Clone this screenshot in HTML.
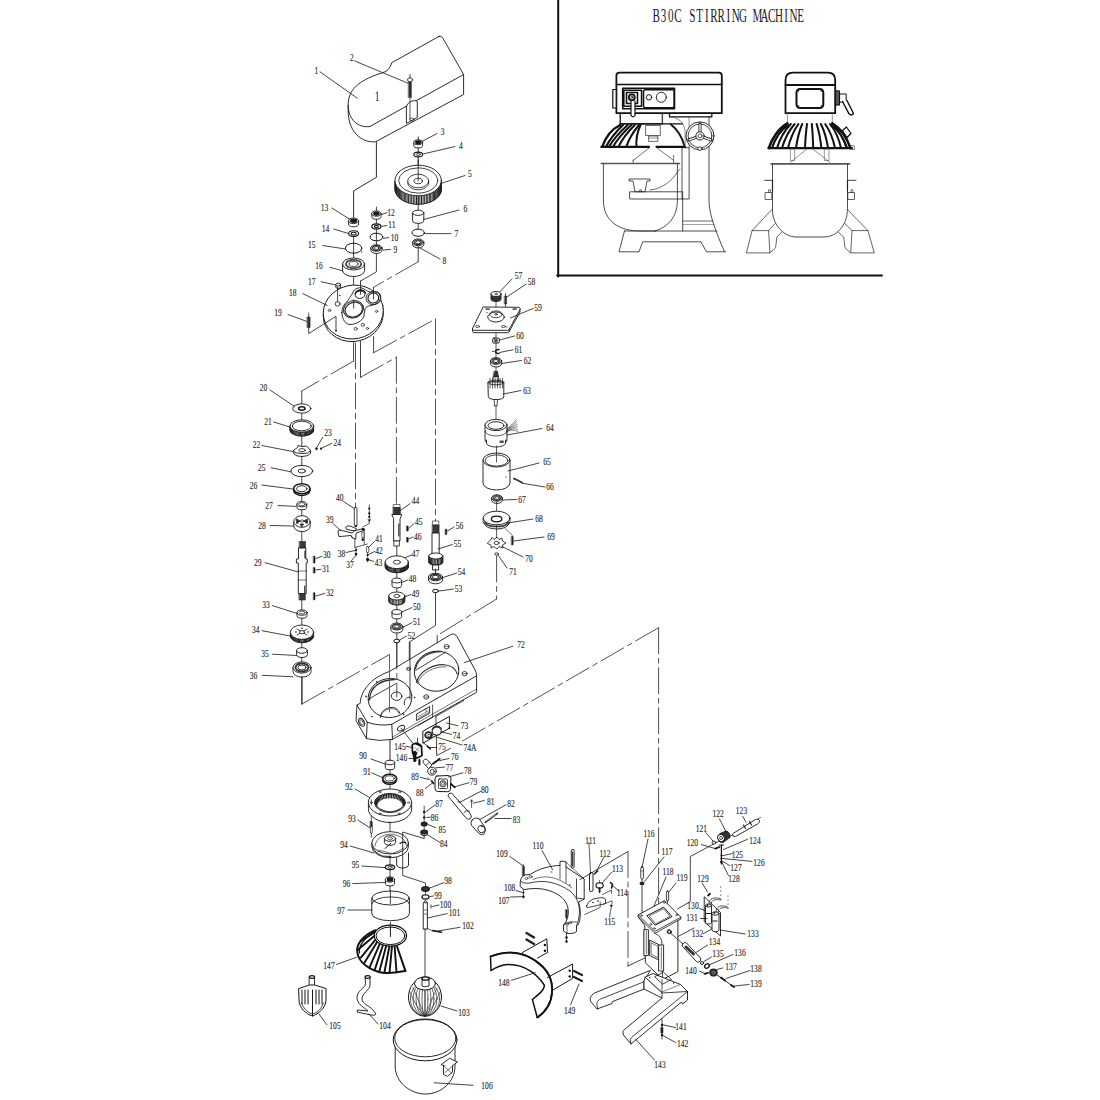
<!DOCTYPE html>
<html><head><meta charset="utf-8"><style>
html,body{margin:0;padding:0;background:#fff;width:1100px;height:1100px;overflow:hidden}
svg{display:block}
.t{font-family:"Liberation Serif",serif;font-size:10.5px;fill:#222;stroke:#222;stroke-width:0.12;text-anchor:middle}
.ti{font-family:"Liberation Serif",serif;font-size:19.8px;fill:#222;text-anchor:middle}
</style></head><body>
<svg width="1100" height="1100" viewBox="0 0 1100 1100" stroke-linecap="round" stroke-linejoin="round">
<rect width="1100" height="1100" fill="#fff"/>
<path d="M439,36.4 Q441,35.5 442.5,37.5 L463.6,74.5 L463.6,94.5 L375.5,141.8 C360,143 348,130 348.2,111 L348.2,103.6 C348.5,88 362,79 382.7,72.7 Q389.5,71 391.8,62.7 L439,36.4 Z" fill="#fff" stroke="#151515" stroke-width="0.9" />
<path d="M463.6,74.5 L370,126.4 C358,128.5 348,119 348.2,105.5" fill="none" stroke="#151515" stroke-width="0.9" />
<path d="M406.4,106.5 L406.4,123.4 L417.3,117.4 L417.3,101.5 C415,99.5 408,101 406.4,106.5 Z" fill="#fff" stroke="#151515" stroke-width="0.9" />
<ellipse cx="411.8" cy="119.5" rx="2.2" ry="1.6" fill="none" stroke="#151515" stroke-width="0.7"/>
<polyline points="410,98 410,119.5" fill="none" stroke="#151515" stroke-width="0.7"/>
<polyline points="377.3,92.3 377.3,100.5" fill="none" stroke="#151515" stroke-width="0.8"/>
<polyline points="376,93.2 377.3,92.3" fill="none" stroke="#151515" stroke-width="0.6"/>
<polyline points="376.2,100.5 378.4,100.5" fill="none" stroke="#151515" stroke-width="0.5"/>
<ellipse cx="410" cy="79.8" rx="2.6" ry="2" fill="#fff" stroke="#151515" stroke-width="0.8"/>
<polyline points="410,74.5 410,77.5" fill="none" stroke="#151515" stroke-width="0.8"/>
<rect x="408.6" y="82" width="2.8" height="15.5" rx="0" fill="#333" stroke="#222" stroke-width="0.5"/>
<text transform="translate(316.4 70) scale(0.72 1)" y="3.7" class="t">1</text>
<polyline points="320,71.8 357.3,98.2" fill="none" stroke="#151515" stroke-width="0.8"/>
<text transform="translate(351.8 57.3) scale(0.72 1)" y="3.7" class="t">2</text>
<polyline points="354.5,60.9 408,83.2" fill="none" stroke="#151515" stroke-width="0.8"/>
<polyline points="376.4,141.8 376.4,177.3 353.6,190.9 353.6,217" fill="none" stroke="#151515" stroke-width="0.9"/>
<polyline points="418.2,137 418.2,175" fill="none" stroke="#151515" stroke-width="0.9"/>
<path d="M413.8,142.3 L413.8,145.5 A4.4,2.4 0 0 0 422.6,145.5 L422.6,142.3" fill="#fff" stroke="#151515" stroke-width="0.9" />
<ellipse cx="418.2" cy="142.3" rx="4.4" ry="2.4" fill="#fff" stroke="#151515" stroke-width="0.9"/>
<ellipse cx="418.2" cy="142.3" rx="2.4" ry="1.3" fill="#222" stroke="#151515" stroke-width="1.5"/>
<text transform="translate(442.7 131) scale(0.72 1)" y="3.7" class="t">3</text>
<polyline points="421,142 437,133.5" fill="none" stroke="#151515" stroke-width="0.8"/>
<ellipse cx="418.2" cy="154.5" rx="4.4" ry="2.4" fill="#fff" stroke="#151515" stroke-width="1.1"/>
<ellipse cx="418.2" cy="154.5" rx="2" ry="1" fill="none" stroke="#151515" stroke-width="0.8"/>
<text transform="translate(461 145.5) scale(0.72 1)" y="3.7" class="t">4</text>
<polyline points="423,154 455,146.5" fill="none" stroke="#151515" stroke-width="0.8"/>
<path d="M395,180.5 L395,189 A23.2,15.3 0 0 0 441.4,189 L441.4,180.5" fill="#fff" stroke="#151515" stroke-width="0.9" />
<line x1="395.1" y1="181.6" x2="395.1" y2="190.1" stroke="#222" stroke-width="1.0"/>
<line x1="395.2" y1="182.7" x2="395.2" y2="191.2" stroke="#222" stroke-width="1.0"/>
<line x1="395.5" y1="183.8" x2="395.5" y2="192.3" stroke="#222" stroke-width="1.0"/>
<line x1="395.9" y1="184.8" x2="395.9" y2="193.3" stroke="#222" stroke-width="1.0"/>
<line x1="396.5" y1="185.8" x2="396.5" y2="194.3" stroke="#222" stroke-width="1.0"/>
<line x1="397.1" y1="186.9" x2="397.1" y2="195.4" stroke="#222" stroke-width="1.0"/>
<line x1="397.8" y1="187.8" x2="397.8" y2="196.3" stroke="#222" stroke-width="1.0"/>
<line x1="398.7" y1="188.8" x2="398.7" y2="197.3" stroke="#222" stroke-width="1.0"/>
<line x1="399.6" y1="189.7" x2="399.6" y2="198.2" stroke="#222" stroke-width="1.0"/>
<line x1="400.7" y1="190.5" x2="400.7" y2="199" stroke="#222" stroke-width="1.0"/>
<line x1="401.8" y1="191.3" x2="401.8" y2="199.8" stroke="#222" stroke-width="1.0"/>
<line x1="403" y1="192.1" x2="403" y2="200.6" stroke="#222" stroke-width="1.0"/>
<line x1="404.3" y1="192.7" x2="404.3" y2="201.2" stroke="#222" stroke-width="1.0"/>
<line x1="405.7" y1="193.4" x2="405.7" y2="201.9" stroke="#222" stroke-width="1.0"/>
<line x1="407.1" y1="193.9" x2="407.1" y2="202.4" stroke="#222" stroke-width="1.0"/>
<line x1="408.6" y1="194.4" x2="408.6" y2="202.9" stroke="#222" stroke-width="1.0"/>
<line x1="410.1" y1="194.8" x2="410.1" y2="203.3" stroke="#222" stroke-width="1.0"/>
<line x1="411.7" y1="195.2" x2="411.7" y2="203.7" stroke="#222" stroke-width="1.0"/>
<line x1="413.3" y1="195.5" x2="413.3" y2="204" stroke="#222" stroke-width="1.0"/>
<line x1="414.9" y1="195.6" x2="414.9" y2="204.1" stroke="#222" stroke-width="1.0"/>
<line x1="416.5" y1="195.8" x2="416.5" y2="204.3" stroke="#222" stroke-width="1.0"/>
<line x1="418.2" y1="195.8" x2="418.2" y2="204.3" stroke="#222" stroke-width="1.0"/>
<line x1="419.9" y1="195.8" x2="419.9" y2="204.3" stroke="#222" stroke-width="1.0"/>
<line x1="421.5" y1="195.6" x2="421.5" y2="204.1" stroke="#222" stroke-width="1.0"/>
<line x1="423.1" y1="195.5" x2="423.1" y2="204" stroke="#222" stroke-width="1.0"/>
<line x1="424.7" y1="195.2" x2="424.7" y2="203.7" stroke="#222" stroke-width="1.0"/>
<line x1="426.3" y1="194.8" x2="426.3" y2="203.3" stroke="#222" stroke-width="1.0"/>
<line x1="427.8" y1="194.4" x2="427.8" y2="202.9" stroke="#222" stroke-width="1.0"/>
<line x1="429.3" y1="193.9" x2="429.3" y2="202.4" stroke="#222" stroke-width="1.0"/>
<line x1="430.7" y1="193.4" x2="430.7" y2="201.9" stroke="#222" stroke-width="1.0"/>
<line x1="432.1" y1="192.7" x2="432.1" y2="201.2" stroke="#222" stroke-width="1.0"/>
<line x1="433.4" y1="192.1" x2="433.4" y2="200.6" stroke="#222" stroke-width="1.0"/>
<line x1="434.6" y1="191.3" x2="434.6" y2="199.8" stroke="#222" stroke-width="1.0"/>
<line x1="435.7" y1="190.5" x2="435.7" y2="199" stroke="#222" stroke-width="1.0"/>
<line x1="436.8" y1="189.7" x2="436.8" y2="198.2" stroke="#222" stroke-width="1.0"/>
<line x1="437.7" y1="188.8" x2="437.7" y2="197.3" stroke="#222" stroke-width="1.0"/>
<line x1="438.6" y1="187.8" x2="438.6" y2="196.3" stroke="#222" stroke-width="1.0"/>
<line x1="439.3" y1="186.9" x2="439.3" y2="195.4" stroke="#222" stroke-width="1.0"/>
<line x1="439.9" y1="185.8" x2="439.9" y2="194.3" stroke="#222" stroke-width="1.0"/>
<line x1="440.5" y1="184.8" x2="440.5" y2="193.3" stroke="#222" stroke-width="1.0"/>
<line x1="440.9" y1="183.8" x2="440.9" y2="192.3" stroke="#222" stroke-width="1.0"/>
<line x1="441.2" y1="182.7" x2="441.2" y2="191.2" stroke="#222" stroke-width="1.0"/>
<line x1="441.3" y1="181.6" x2="441.3" y2="190.1" stroke="#222" stroke-width="1.0"/>
<ellipse cx="418.2" cy="180.5" rx="23.2" ry="15.3" fill="#fff" stroke="#151515" stroke-width="0.9"/>
<ellipse cx="418.2" cy="180.5" rx="19.5" ry="12.6" fill="none" stroke="#151515" stroke-width="0.8"/>
<ellipse cx="418.2" cy="183" rx="10.5" ry="6.8" fill="#fff" stroke="#151515" stroke-width="0.8"/>
<ellipse cx="418.2" cy="181" rx="10.5" ry="6.8" fill="#fff" stroke="#151515" stroke-width="0.8"/>
<ellipse cx="418.2" cy="181" rx="4.2" ry="2.7" fill="none" stroke="#151515" stroke-width="0.8"/>
<polyline points="418.2,160 418.2,181" fill="none" stroke="#151515" stroke-width="0.8"/>
<text transform="translate(470 173.6) scale(0.72 1)" y="3.7" class="t">5</text>
<polyline points="440.5,183.6 465,175.5" fill="none" stroke="#151515" stroke-width="0.8"/>
<polyline points="418.2,197 418.2,213" fill="none" stroke="#151515" stroke-width="0.8"/>
<path d="M412.6,212.8 L412.6,220.8 A5.6,2.6 0 0 0 423.8,220.8 L423.8,212.8" fill="#fff" stroke="#151515" stroke-width="0.9" />
<ellipse cx="418.2" cy="212.8" rx="5.6" ry="2.6" fill="#fff" stroke="#151515" stroke-width="0.9"/>
<text transform="translate(465.5 208) scale(0.72 1)" y="3.7" class="t">6</text>
<polyline points="423.6,219.5 459,210" fill="none" stroke="#151515" stroke-width="0.8"/>
<ellipse cx="418.2" cy="232.7" rx="6.2" ry="3.6" fill="none" stroke="#151515" stroke-width="1.0"/>
<text transform="translate(456.4 233.6) scale(0.72 1)" y="3.7" class="t">7</text>
<polyline points="424.5,233.6 451,233.6" fill="none" stroke="#151515" stroke-width="0.8"/>
<polyline points="418.2,224 418.2,229" fill="none" stroke="#151515" stroke-width="0.8"/>
<path d="M412.6,242.3 L412.6,244.5 A5.6,3.4 0 0 0 423.8,244.5 L423.8,242.3" fill="#fff" stroke="#151515" stroke-width="0.9" />
<ellipse cx="418.2" cy="242.3" rx="5.6" ry="3.4" fill="#fff" stroke="#151515" stroke-width="0.9"/>
<ellipse cx="418.2" cy="242.3" rx="4" ry="2.4" fill="none" stroke="#333" stroke-width="1.232" stroke-dasharray="1.1,0.7"/>
<ellipse cx="418.2" cy="242.3" rx="2.5" ry="1.5" fill="#fff" stroke="#151515" stroke-width="0.9"/>
<text transform="translate(444.5 260) scale(0.72 1)" y="3.7" class="t">8</text>
<polyline points="420,248 440,259" fill="none" stroke="#151515" stroke-width="0.8"/>
<polyline points="418.2,246 418.2,261.8" fill="none" stroke="#151515" stroke-width="0.8"/>
<polyline points="418.2,261.8 373.5,287.3" fill="none" stroke="#333" stroke-width="0.85" stroke-dasharray="26,4.5,5,4.5"/>
<path d="M348.6,220.8 L348.6,224 A5,2.8 0 0 0 358.6,224 L358.6,220.8" fill="#fff" stroke="#151515" stroke-width="0.9" />
<ellipse cx="353.6" cy="220.8" rx="5" ry="2.8" fill="#fff" stroke="#151515" stroke-width="0.9"/>
<ellipse cx="353.6" cy="220.8" rx="2.8" ry="1.5" fill="#222" stroke="#151515" stroke-width="1.5"/>
<text transform="translate(324.5 207.3) scale(0.72 1)" y="3.7" class="t">13</text>
<polyline points="331.8,208 349.5,219" fill="none" stroke="#151515" stroke-width="0.8"/>
<ellipse cx="353.6" cy="233.6" rx="5" ry="2.8" fill="#fff" stroke="#151515" stroke-width="1.1"/>
<ellipse cx="353.6" cy="233.6" rx="2.5" ry="1.4" fill="none" stroke="#151515" stroke-width="1.1"/>
<text transform="translate(325.5 228) scale(0.72 1)" y="3.7" class="t">14</text>
<polyline points="333.6,229 348,233.4" fill="none" stroke="#151515" stroke-width="0.8"/>
<polyline points="353.6,236.5 353.6,311" fill="none" stroke="#151515" stroke-width="0.8"/>
<ellipse cx="353.6" cy="248.2" rx="8.2" ry="5" fill="none" stroke="#151515" stroke-width="1.0"/>
<path d="M361,250.5 q1.5,1 0.5,2" fill="none" stroke="#151515" stroke-width="0.8" />
<text transform="translate(311.8 244.5) scale(0.72 1)" y="3.7" class="t">15</text>
<polyline points="322.7,245.5 345.5,249" fill="none" stroke="#151515" stroke-width="0.8"/>
<path d="M342.6,264 L342.6,270.5 A11,6 0 0 0 364.6,270.5 L364.6,264" fill="#fff" stroke="#151515" stroke-width="0.9" />
<ellipse cx="353.6" cy="264" rx="11" ry="6" fill="#fff" stroke="#151515" stroke-width="0.9"/>
<ellipse cx="353.6" cy="264" rx="7.6" ry="4.2" fill="none" stroke="#444" stroke-width="1.8" stroke-dasharray="2,1.4"/>
<ellipse cx="353.6" cy="264" rx="4.5" ry="2.5" fill="#fff" stroke="#151515" stroke-width="0.8"/>
<text transform="translate(319 265.5) scale(0.72 1)" y="3.7" class="t">16</text>
<polyline points="330,267.3 342.7,270.8" fill="none" stroke="#151515" stroke-width="0.8"/>
<path d="M335.8,284.6 L335.8,287 A2.4,1.4 0 0 0 340.6,287 L340.6,284.6" fill="#fff" stroke="#151515" stroke-width="0.9" />
<ellipse cx="338.2" cy="284.6" rx="2.4" ry="1.4" fill="#fff" stroke="#151515" stroke-width="0.9"/>
<text transform="translate(311.8 281) scale(0.72 1)" y="3.7" class="t">17</text>
<polyline points="321,281.8 335,284.8" fill="none" stroke="#151515" stroke-width="0.8"/>
<polyline points="376.4,207 376.4,271.8 360.5,281" fill="none" stroke="#151515" stroke-width="0.8"/>
<path d="M371.8,213.6 L371.8,216.6 A4.6,2.6 0 0 0 381,216.6 L381,213.6" fill="#fff" stroke="#151515" stroke-width="0.9" />
<ellipse cx="376.4" cy="213.6" rx="4.6" ry="2.6" fill="#fff" stroke="#151515" stroke-width="0.9"/>
<ellipse cx="376.4" cy="213.6" rx="2.5" ry="1.4" fill="#222" stroke="#151515" stroke-width="1.5"/>
<text transform="translate(391 211.8) scale(0.72 1)" y="3.7" class="t">12</text>
<polyline points="381.8,214.5 386.8,212.7" fill="none" stroke="#151515" stroke-width="0.8"/>
<ellipse cx="376.4" cy="226.4" rx="4.5" ry="2.5" fill="#fff" stroke="#151515" stroke-width="1.2"/>
<ellipse cx="376.4" cy="226.4" rx="2" ry="1.1" fill="none" stroke="#151515" stroke-width="1.2"/>
<text transform="translate(391.8 224.5) scale(0.72 1)" y="3.7" class="t">11</text>
<polyline points="381.5,226.4 386.8,225.5" fill="none" stroke="#151515" stroke-width="0.8"/>
<ellipse cx="376.4" cy="237" rx="6.4" ry="3.8" fill="none" stroke="#151515" stroke-width="1.0"/>
<text transform="translate(394.5 237) scale(0.72 1)" y="3.7" class="t">10</text>
<polyline points="383.5,238.4 388.6,237.6" fill="none" stroke="#151515" stroke-width="0.8"/>
<path d="M370.8,248 L370.8,250.2 A5.6,3.3 0 0 0 382,250.2 L382,248" fill="#fff" stroke="#151515" stroke-width="0.9" />
<ellipse cx="376.4" cy="248" rx="5.6" ry="3.3" fill="#fff" stroke="#151515" stroke-width="0.9"/>
<ellipse cx="376.4" cy="248" rx="4" ry="2.4" fill="none" stroke="#333" stroke-width="1.232" stroke-dasharray="1.1,0.7"/>
<ellipse cx="376.4" cy="248" rx="2.5" ry="1.5" fill="#fff" stroke="#151515" stroke-width="0.9"/>
<text transform="translate(395.5 249) scale(0.72 1)" y="3.7" class="t">9</text>
<polyline points="382.8,250 390.5,249.5" fill="none" stroke="#151515" stroke-width="0.8"/>
<ellipse cx="353.3" cy="314.6" rx="30.2" ry="26.8" fill="#fff" stroke="#151515" stroke-width="0.9" transform="rotate(-12 353.3 314.6)"/>
<ellipse cx="353.3" cy="312" rx="30.2" ry="26.8" fill="#fff" stroke="#151515" stroke-width="0.9" transform="rotate(-12 353.3 312)"/>
<path d="M341.9,312.7 C342,320 346,324.5 350,324.5 C356,324.5 362,321 363.8,316.6 L365,308.8 C366.5,306.5 368,306 369.7,305.9 C375,304.5 380.8,303 380.8,299.6 C381,294 379,291.8 376.9,291.8 C374,291.5 372,292.5 370.4,292.1 C368,291.5 366.5,290.5 365.1,289.8 C362,287.5 360,287.5 358.6,287.9 C355,288.5 353,291 352.7,293.1 C350.5,296 349,299 347.5,301 C344,304 341.8,308 341.9,312.7 Z" fill="#fff" stroke="#151515" stroke-width="0.9" />
<ellipse cx="353.5" cy="309.3" rx="10.2" ry="8.6" fill="#fff" stroke="#151515" stroke-width="0.9" transform="rotate(-20 353.5 309.3)"/>
<ellipse cx="353.8" cy="309.6" rx="8.9" ry="7.2" fill="none" stroke="#333" stroke-width="1.3" transform="rotate(-20 353.8 309.6)"/>
<ellipse cx="360.2" cy="294.1" rx="5.1" ry="4.3" fill="none" stroke="#151515" stroke-width="0.9" transform="rotate(-15 360.2 294.1)"/>
<path d="M355.5,293.5 C356,290 364,289.5 365,293" fill="none" stroke="#222" stroke-width="1.6" />
<ellipse cx="373.3" cy="298" rx="7.3" ry="6.6" fill="none" stroke="#151515" stroke-width="0.8" transform="rotate(-15 373.3 298)"/>
<ellipse cx="373.3" cy="298" rx="5.4" ry="5" fill="none" stroke="#151515" stroke-width="1.1" transform="rotate(-15 373.3 298)"/>
<ellipse cx="329.5" cy="310.4" rx="1.3" ry="1.1" fill="none" stroke="#151515" stroke-width="0.7"/>
<ellipse cx="337.6" cy="303.9" rx="2.5" ry="2.2" fill="none" stroke="#151515" stroke-width="0.8"/>
<ellipse cx="376.6" cy="311.4" rx="1.2" ry="1" fill="none" stroke="#151515" stroke-width="0.7"/>
<ellipse cx="355.6" cy="328.8" rx="1.6" ry="1.4" fill="none" stroke="#151515" stroke-width="0.7"/>
<ellipse cx="362.8" cy="324.8" rx="1.7" ry="1.5" fill="none" stroke="#151515" stroke-width="0.7"/>
<ellipse cx="367.4" cy="328.4" rx="1.2" ry="1" fill="none" stroke="#151515" stroke-width="0.7"/>
<circle cx="339.8" cy="295.5" r="0.7" fill="#111"/>
<polyline points="360.5,281 360.5,294.4" fill="none" stroke="#151515" stroke-width="0.8"/>
<polyline points="353.7,300 353.7,308.1" fill="none" stroke="#151515" stroke-width="0.8"/>
<polyline points="373.5,287.3 373.5,299" fill="none" stroke="#151515" stroke-width="0.8"/>
<polyline points="337.6,287 337.6,301.6" fill="none" stroke="#151515" stroke-width="0.8"/>
<text transform="translate(292.7 291.8) scale(0.72 1)" y="3.7" class="t">18</text>
<polyline points="302.7,293.6 327.3,305.5" fill="none" stroke="#151515" stroke-width="0.8"/>
<polyline points="308.7,313 308.7,317" fill="none" stroke="#151515" stroke-width="0.7"/>
<rect x="307.3" y="317" width="2.8" height="10.5" rx="0" fill="#333" stroke="#222" stroke-width="0.5"/>
<polyline points="308.7,327.5 308.7,333.6 336,316.3 336,330.7" fill="none" stroke="#151515" stroke-width="0.8"/>
<circle cx="336" cy="330.7" r="0.9" fill="#111"/>
<text transform="translate(278 312.7) scale(0.72 1)" y="3.7" class="t">19</text>
<polyline points="288,314.5 307,321.5" fill="none" stroke="#151515" stroke-width="0.8"/>
<polyline points="353.6,342.5 353.6,361" fill="none" stroke="#151515" stroke-width="0.8"/>
<polyline points="353.6,361 301.8,391" fill="none" stroke="#333" stroke-width="0.85" stroke-dasharray="26,4.5,5,4.5"/>
<polyline points="301.8,391 301.8,404.5" fill="none" stroke="#151515" stroke-width="0.8"/>
<polyline points="355.5,343 355.5,507.3" fill="none" stroke="#333" stroke-width="0.85" stroke-dasharray="26,4.5,5,4.5"/>
<polyline points="360.5,341.5 360.5,377.3" fill="none" stroke="#151515" stroke-width="0.8"/>
<polyline points="360.5,377.3 396.4,357.3" fill="none" stroke="#333" stroke-width="0.85" stroke-dasharray="26,4.5,5,4.5"/>
<polyline points="396.4,357.3 396.4,505" fill="none" stroke="#333" stroke-width="0.85" stroke-dasharray="26,4.5,5,4.5"/>
<polyline points="373.6,336.5 373.6,352.7" fill="none" stroke="#151515" stroke-width="0.8"/>
<polyline points="373.6,352.7 435.5,319" fill="none" stroke="#333" stroke-width="0.85" stroke-dasharray="26,4.5,5,4.5"/>
<polyline points="435.5,319 435.5,521" fill="none" stroke="#333" stroke-width="0.85" stroke-dasharray="26,4.5,5,4.5"/>
<polyline points="301.8,404 301.8,704" fill="none" stroke="#151515" stroke-width="0.8"/>
<ellipse cx="301.8" cy="408.5" rx="9.1" ry="4.6" fill="#fff" stroke="#151515" stroke-width="0.9"/>
<ellipse cx="301.8" cy="408.5" rx="3.2" ry="1.7" fill="none" stroke="#151515" stroke-width="1.6"/>
<text transform="translate(263.6 387.5) scale(0.72 1)" y="3.7" class="t">20</text>
<polyline points="270,390 294.5,406.4" fill="none" stroke="#151515" stroke-width="0.8"/>
<path d="M290,426 L290,429.8 A11.8,6.2 0 0 0 313.6,429.8 L313.6,426" fill="#fff" stroke="#151515" stroke-width="0.9" />
<line x1="290.1" y1="426.6" x2="290.1" y2="430.4" stroke="#222" stroke-width="1.1"/>
<line x1="290.3" y1="427.3" x2="290.3" y2="431.1" stroke="#222" stroke-width="1.1"/>
<line x1="290.6" y1="427.9" x2="290.6" y2="431.7" stroke="#222" stroke-width="1.1"/>
<line x1="291" y1="428.5" x2="291" y2="432.3" stroke="#222" stroke-width="1.1"/>
<line x1="291.6" y1="429.1" x2="291.6" y2="432.9" stroke="#222" stroke-width="1.1"/>
<line x1="292.3" y1="429.6" x2="292.3" y2="433.4" stroke="#222" stroke-width="1.1"/>
<line x1="293" y1="430.1" x2="293" y2="433.9" stroke="#222" stroke-width="1.1"/>
<line x1="293.9" y1="430.6" x2="293.9" y2="434.4" stroke="#222" stroke-width="1.1"/>
<line x1="294.9" y1="431" x2="294.9" y2="434.8" stroke="#222" stroke-width="1.1"/>
<line x1="295.9" y1="431.4" x2="295.9" y2="435.2" stroke="#222" stroke-width="1.1"/>
<line x1="297" y1="431.7" x2="297" y2="435.5" stroke="#222" stroke-width="1.1"/>
<line x1="298.2" y1="431.9" x2="298.2" y2="435.7" stroke="#222" stroke-width="1.1"/>
<line x1="299.3" y1="432.1" x2="299.3" y2="435.9" stroke="#222" stroke-width="1.1"/>
<line x1="300.6" y1="432.2" x2="300.6" y2="436" stroke="#222" stroke-width="1.1"/>
<line x1="301.8" y1="432.2" x2="301.8" y2="436" stroke="#222" stroke-width="1.1"/>
<line x1="303" y1="432.2" x2="303" y2="436" stroke="#222" stroke-width="1.1"/>
<line x1="304.3" y1="432.1" x2="304.3" y2="435.9" stroke="#222" stroke-width="1.1"/>
<line x1="305.4" y1="431.9" x2="305.4" y2="435.7" stroke="#222" stroke-width="1.1"/>
<line x1="306.6" y1="431.7" x2="306.6" y2="435.5" stroke="#222" stroke-width="1.1"/>
<line x1="307.7" y1="431.4" x2="307.7" y2="435.2" stroke="#222" stroke-width="1.1"/>
<line x1="308.7" y1="431" x2="308.7" y2="434.8" stroke="#222" stroke-width="1.1"/>
<line x1="309.7" y1="430.6" x2="309.7" y2="434.4" stroke="#222" stroke-width="1.1"/>
<line x1="310.6" y1="430.1" x2="310.6" y2="433.9" stroke="#222" stroke-width="1.1"/>
<line x1="311.3" y1="429.6" x2="311.3" y2="433.4" stroke="#222" stroke-width="1.1"/>
<line x1="312" y1="429.1" x2="312" y2="432.9" stroke="#222" stroke-width="1.1"/>
<line x1="312.6" y1="428.5" x2="312.6" y2="432.3" stroke="#222" stroke-width="1.1"/>
<line x1="313" y1="427.9" x2="313" y2="431.7" stroke="#222" stroke-width="1.1"/>
<line x1="313.3" y1="427.3" x2="313.3" y2="431.1" stroke="#222" stroke-width="1.1"/>
<line x1="313.5" y1="426.6" x2="313.5" y2="430.4" stroke="#222" stroke-width="1.1"/>
<ellipse cx="301.8" cy="426" rx="11.8" ry="6.2" fill="#fff" stroke="#151515" stroke-width="0.9"/>
<ellipse cx="301.8" cy="426" rx="9.5" ry="4.8" fill="none" stroke="#151515" stroke-width="0.9"/>
<text transform="translate(268 421) scale(0.72 1)" y="3.7" class="t">21</text>
<polyline points="273.6,422 290,427" fill="none" stroke="#151515" stroke-width="0.8"/>
<path d="M293.5,450.5 L294,454 Q296,456.5 302,456.5 Q308,456.5 310.5,453.5 L310.5,450.5" fill="#fff" stroke="#151515" stroke-width="0.9" />
<path d="M293.5,450.5 L297.5,447.5 L298,445.5 L302,446.5 L306.5,446 L308.5,448 L310.5,450.5 L307.5,453 L303,453.5 L296.5,453 Z" fill="#fff" stroke="#151515" stroke-width="0.9" />
<ellipse cx="302" cy="450.2" rx="3.3" ry="1.6" fill="none" stroke="#151515" stroke-width="0.8"/>
<text transform="translate(256.4 444.5) scale(0.72 1)" y="3.7" class="t">22</text>
<polyline points="261.8,445.5 292.7,451.5" fill="none" stroke="#151515" stroke-width="0.8"/>
<circle cx="316.4" cy="448.7" r="0.9" fill="#111"/>
<ellipse cx="316.4" cy="448.7" rx="1.1" ry="1.1" fill="none" stroke="#151515" stroke-width="0.6"/>
<circle cx="321" cy="448.7" r="1.1" fill="#111"/>
<text transform="translate(328 432.7) scale(0.72 1)" y="3.7" class="t">23</text>
<polyline points="322.7,437.3 316.8,447.5" fill="none" stroke="#151515" stroke-width="0.8"/>
<text transform="translate(337.3 442.7) scale(0.72 1)" y="3.7" class="t">24</text>
<polyline points="331.8,443.3 322,448" fill="none" stroke="#151515" stroke-width="0.8"/>
<ellipse cx="301.8" cy="471" rx="10.9" ry="5.6" fill="#fff" stroke="#151515" stroke-width="0.9"/>
<ellipse cx="301.8" cy="471" rx="3.6" ry="2" fill="none" stroke="#151515" stroke-width="0.9"/>
<text transform="translate(261.8 467) scale(0.72 1)" y="3.7" class="t">25</text>
<polyline points="271,467.8 291,471.8" fill="none" stroke="#151515" stroke-width="0.8"/>
<path d="M293.6,488.7 L293.6,490.5 A8.2,5 0 0 0 310,490.5 L310,488.7" fill="#fff" stroke="#151515" stroke-width="1.3" />
<ellipse cx="301.8" cy="488.7" rx="8.2" ry="5" fill="#fff" stroke="#151515" stroke-width="1.6"/>
<ellipse cx="301.8" cy="488.7" rx="5.2" ry="3" fill="none" stroke="#151515" stroke-width="0.9"/>
<text transform="translate(253.6 485) scale(0.72 1)" y="3.7" class="t">26</text>
<polyline points="261.8,485 292.7,489" fill="none" stroke="#151515" stroke-width="0.8"/>
<path d="M296.9,504.2 L296.9,507.2 A4.9,2.6 0 0 0 306.7,507.2 L306.7,504.2" fill="#fff" stroke="#151515" stroke-width="0.9" />
<ellipse cx="301.8" cy="504.2" rx="4.9" ry="2.6" fill="#fff" stroke="#151515" stroke-width="0.9"/>
<ellipse cx="301.8" cy="504.2" rx="3.2" ry="1.6" fill="none" stroke="#151515" stroke-width="0.7"/>
<text transform="translate(269 505) scale(0.72 1)" y="3.7" class="t">27</text>
<polyline points="278,505.5 295.5,506.4" fill="none" stroke="#151515" stroke-width="0.8"/>
<path d="M293.8,521.5 L293.8,526 A8.2,5.6 0 0 0 310.2,526 L310.2,521.5" fill="#fff" stroke="#151515" stroke-width="0.9" />
<ellipse cx="302" cy="521.5" rx="8.2" ry="5.8" fill="#fff" stroke="#151515" stroke-width="0.9"/>
<path d="M296.5,519 L300,521 L297,523.5 Z M307.5,519 L304,521 L307,523.5 Z M300.5,524 L303.5,524 L302,526.5 Z" fill="#333" stroke="#151515" stroke-width="0.8" />
<ellipse cx="302" cy="521" rx="1.8" ry="1.1" fill="none" stroke="#151515" stroke-width="0.7"/>
<text transform="translate(262 525) scale(0.72 1)" y="3.7" class="t">28</text>
<polyline points="270.3,525.5 293.3,526" fill="none" stroke="#151515" stroke-width="0.8"/>
<rect x="299.5" y="541.5" width="6" height="6.8" rx="0" fill="#3a3a3a" stroke="#222" stroke-width="0.6"/>
<path d="M298.5,548.3 L298.5,559 L296.4,559 L296.4,563 L298.3,563 L298.3,593.6 L306.2,593.6 L306.2,563 L307.3,563 L307.3,559 L305.8,559 L305.8,548.3 Z" fill="#fff" stroke="#151515" stroke-width="0.9" />
<polyline points="298.3,571 306.2,571" fill="none" stroke="#151515" stroke-width="0.6"/>
<polyline points="298.3,580 306.2,580" fill="none" stroke="#151515" stroke-width="0.6"/>
<polyline points="305,551 305,558" fill="none" stroke="#151515" stroke-width="1.1"/>
<polyline points="304.8,586 304.8,593" fill="none" stroke="#151515" stroke-width="1.1"/>
<rect x="299.3" y="593.6" width="6" height="6.4" rx="0" fill="#3a3a3a" stroke="#222" stroke-width="0.6"/>
<text transform="translate(257.8 562) scale(0.72 1)" y="3.7" class="t">29</text>
<polyline points="265,562.7 298.5,572" fill="none" stroke="#151515" stroke-width="0.8"/>
<rect x="313.6" y="556.2" width="1.4" height="6.8" rx="0" fill="#111" stroke="#111" stroke-width="0.5"/>
<rect x="313.6" y="567.6" width="1.4" height="5.4" rx="0" fill="#111" stroke="#111" stroke-width="0.5"/>
<rect x="313.6" y="592.8" width="1.4" height="7" rx="0" fill="#111" stroke="#111" stroke-width="0.5"/>
<text transform="translate(326.8 554.4) scale(0.72 1)" y="3.7" class="t">30</text>
<polyline points="316,558.5 321.8,556.3" fill="none" stroke="#151515" stroke-width="0.8"/>
<text transform="translate(325.7 568.6) scale(0.72 1)" y="3.7" class="t">31</text>
<polyline points="316,570 321,569.3" fill="none" stroke="#151515" stroke-width="0.8"/>
<text transform="translate(330 592) scale(0.72 1)" y="3.7" class="t">32</text>
<polyline points="316,596 325,593.3" fill="none" stroke="#151515" stroke-width="0.8"/>
<path d="M297,612.6 L297,615.6 A5,2.6 0 0 0 307,615.6 L307,612.6" fill="#fff" stroke="#151515" stroke-width="0.9" />
<ellipse cx="302" cy="612.6" rx="5" ry="2.6" fill="#fff" stroke="#151515" stroke-width="0.9"/>
<ellipse cx="302" cy="612.6" rx="3" ry="1.5" fill="none" stroke="#151515" stroke-width="0.7"/>
<text transform="translate(266 604.5) scale(0.72 1)" y="3.7" class="t">33</text>
<polyline points="272.4,605.6 297.5,613.6" fill="none" stroke="#151515" stroke-width="0.8"/>
<path d="M290.4,632.2 L290.4,635.4 A11.6,7.2 0 0 0 313.6,635.4 L313.6,632.2" fill="#fff" stroke="#151515" stroke-width="0.9" />
<line x1="290.5" y1="633" x2="290.5" y2="636.2" stroke="#222" stroke-width="1.1"/>
<line x1="290.7" y1="633.7" x2="290.7" y2="636.9" stroke="#222" stroke-width="1.1"/>
<line x1="291" y1="634.4" x2="291" y2="637.6" stroke="#222" stroke-width="1.1"/>
<line x1="291.4" y1="635.1" x2="291.4" y2="638.3" stroke="#222" stroke-width="1.1"/>
<line x1="292" y1="635.8" x2="292" y2="639" stroke="#222" stroke-width="1.1"/>
<line x1="292.6" y1="636.4" x2="292.6" y2="639.6" stroke="#222" stroke-width="1.1"/>
<line x1="293.4" y1="637" x2="293.4" y2="640.2" stroke="#222" stroke-width="1.1"/>
<line x1="294.2" y1="637.6" x2="294.2" y2="640.8" stroke="#222" stroke-width="1.1"/>
<line x1="295.2" y1="638" x2="295.2" y2="641.2" stroke="#222" stroke-width="1.1"/>
<line x1="296.2" y1="638.4" x2="296.2" y2="641.6" stroke="#222" stroke-width="1.1"/>
<line x1="297.3" y1="638.8" x2="297.3" y2="642" stroke="#222" stroke-width="1.1"/>
<line x1="298.4" y1="639" x2="298.4" y2="642.2" stroke="#222" stroke-width="1.1"/>
<line x1="299.6" y1="639.2" x2="299.6" y2="642.4" stroke="#222" stroke-width="1.1"/>
<line x1="300.8" y1="639.4" x2="300.8" y2="642.6" stroke="#222" stroke-width="1.1"/>
<line x1="302" y1="639.4" x2="302" y2="642.6" stroke="#222" stroke-width="1.1"/>
<line x1="303.2" y1="639.4" x2="303.2" y2="642.6" stroke="#222" stroke-width="1.1"/>
<line x1="304.4" y1="639.2" x2="304.4" y2="642.4" stroke="#222" stroke-width="1.1"/>
<line x1="305.6" y1="639" x2="305.6" y2="642.2" stroke="#222" stroke-width="1.1"/>
<line x1="306.7" y1="638.8" x2="306.7" y2="642" stroke="#222" stroke-width="1.1"/>
<line x1="307.8" y1="638.4" x2="307.8" y2="641.6" stroke="#222" stroke-width="1.1"/>
<line x1="308.8" y1="638" x2="308.8" y2="641.2" stroke="#222" stroke-width="1.1"/>
<line x1="309.8" y1="637.6" x2="309.8" y2="640.8" stroke="#222" stroke-width="1.1"/>
<line x1="310.6" y1="637" x2="310.6" y2="640.2" stroke="#222" stroke-width="1.1"/>
<line x1="311.4" y1="636.4" x2="311.4" y2="639.6" stroke="#222" stroke-width="1.1"/>
<line x1="312" y1="635.8" x2="312" y2="639" stroke="#222" stroke-width="1.1"/>
<line x1="312.6" y1="635.1" x2="312.6" y2="638.3" stroke="#222" stroke-width="1.1"/>
<line x1="313" y1="634.4" x2="313" y2="637.6" stroke="#222" stroke-width="1.1"/>
<line x1="313.3" y1="633.7" x2="313.3" y2="636.9" stroke="#222" stroke-width="1.1"/>
<line x1="313.5" y1="633" x2="313.5" y2="636.2" stroke="#222" stroke-width="1.1"/>
<ellipse cx="302" cy="632.2" rx="11.6" ry="7.2" fill="#fff" stroke="#151515" stroke-width="0.9"/>
<path d="M297,629 L307,635 M307,629 L297,635" fill="none" stroke="#151515" stroke-width="0.8" />
<ellipse cx="302" cy="632.2" rx="2.6" ry="1.6" fill="#fff" stroke="#151515" stroke-width="0.8"/>
<circle cx="296" cy="632" r="0.8" fill="#111"/>
<circle cx="308" cy="632" r="0.8" fill="#111"/>
<circle cx="302" cy="628.2" r="0.8" fill="#111"/>
<text transform="translate(255.7 629.6) scale(0.72 1)" y="3.7" class="t">34</text>
<polyline points="262,630.7 290,636" fill="none" stroke="#151515" stroke-width="0.8"/>
<path d="M296.6,650.5 L296.6,654.7 A5.4,2.8 0 0 0 307.4,654.7 L307.4,650.5" fill="#fff" stroke="#151515" stroke-width="0.9" />
<ellipse cx="302" cy="650.5" rx="5.4" ry="2.8" fill="#fff" stroke="#151515" stroke-width="0.9"/>
<text transform="translate(265 653.7) scale(0.72 1)" y="3.7" class="t">35</text>
<polyline points="272.5,654.2 296.5,655.5" fill="none" stroke="#151515" stroke-width="0.8"/>
<path d="M293,667.5 L293,671.5 A9,5.6 0 0 0 311,671.5 L311,667.5" fill="#fff" stroke="#151515" stroke-width="0.9" />
<ellipse cx="302" cy="667.5" rx="9" ry="5.6" fill="#fff" stroke="#151515" stroke-width="0.9"/>
<ellipse cx="302" cy="667.5" rx="6.5" ry="4" fill="none" stroke="#333" stroke-width="1.98" stroke-dasharray="1.8,1.1"/>
<ellipse cx="302" cy="667.5" rx="4" ry="2.5" fill="#fff" stroke="#151515" stroke-width="0.9"/>
<text transform="translate(253.5 675) scale(0.72 1)" y="3.7" class="t">36</text>
<polyline points="262.3,675.3 293,676.8" fill="none" stroke="#151515" stroke-width="0.8"/>
<polyline points="302,677 302,704" fill="none" stroke="#151515" stroke-width="0.8"/>
<polyline points="302,704 389.5,654.5" fill="none" stroke="#333" stroke-width="0.85" stroke-dasharray="26,4.5,5,4.5"/>
<rect x="354.3" y="507.3" width="2.7" height="19" rx="1" fill="#fff" stroke="#151515" stroke-width="0.8"/>
<circle cx="356" cy="526" r="1.1" fill="#111"/>
<text transform="translate(339.7 497.7) scale(0.72 1)" y="3.7" class="t">40</text>
<polyline points="343.5,501.5 354.3,508.5" fill="none" stroke="#151515" stroke-width="0.8"/>
<circle cx="369.3" cy="508.6" r="1.1" fill="#111"/>
<circle cx="369.3" cy="513.4" r="1.1" fill="#111"/>
<circle cx="369.3" cy="516.8" r="1.1" fill="#111"/>
<path d="M368.2,519.5 L369.3,521.5 L370.4,519.5" fill="none" stroke="#151515" stroke-width="0.9" />
<polyline points="369.3,505 369.3,523.6 362.8,527" fill="none" stroke="#151515" stroke-width="0.7"/>
<path d="M346,527 Q347,525.5 350,526 L356.4,528.5 L355,531 L347,529.5 Z" fill="#fff" stroke="#151515" stroke-width="0.9" />
<path d="M338.3,530.5 L339,529.8 L352,533 L354.3,531 L363.5,528.4 L364.5,530 L356,533.2 L355.7,539.2 L352.5,538 L351,535.5 L339,536.6 L338.3,533.5 Z" fill="#fff" stroke="#151515" stroke-width="0.9" />
<path d="M351,535.5 L352.5,538" fill="none" stroke="#151515" stroke-width="0.7" />
<polyline points="355,539.2 354.6,547.5 367.3,544" fill="none" stroke="#151515" stroke-width="0.7"/>
<polyline points="364.2,530.5 364.2,544" fill="none" stroke="#151515" stroke-width="0.7"/>
<circle cx="363.2" cy="529.3" r="1.3" fill="#111"/>
<circle cx="362.8" cy="539.6" r="1.3" fill="#111"/>
<rect x="362.2" y="532" width="1.8" height="5.5" rx="0" fill="#fff" stroke="#151515" stroke-width="0.6"/>
<text transform="translate(329.8 519.5) scale(0.72 1)" y="3.7" class="t">39</text>
<polyline points="333,523.5 340.5,530.5" fill="none" stroke="#151515" stroke-width="0.8"/>
<rect x="366.4" y="546.5" width="2.4" height="6" rx="1" fill="#fff" stroke="#151515" stroke-width="0.7"/>
<circle cx="367.6" cy="555" r="1.1" fill="#111"/>
<circle cx="367.6" cy="559.6" r="1.6" fill="#111"/>
<polyline points="367.6,552.5 367.6,562" fill="none" stroke="#151515" stroke-width="0.6"/>
<circle cx="356" cy="550.2" r="1.1" fill="#111"/>
<circle cx="356" cy="554" r="1.3" fill="#111"/>
<polyline points="356,547.5 356,556" fill="none" stroke="#151515" stroke-width="0.6"/>
<text transform="translate(378.9 538.6) scale(0.72 1)" y="3.7" class="t">41</text>
<polyline points="368.5,547.5 374.5,541.5" fill="none" stroke="#151515" stroke-width="0.8"/>
<text transform="translate(378.9 550.2) scale(0.72 1)" y="3.7" class="t">42</text>
<polyline points="368.5,554.5 374.5,551.5" fill="none" stroke="#151515" stroke-width="0.8"/>
<text transform="translate(378.5 562.2) scale(0.72 1)" y="3.7" class="t">43</text>
<polyline points="369.5,560 373.5,561.5" fill="none" stroke="#151515" stroke-width="0.8"/>
<text transform="translate(341.4 553) scale(0.72 1)" y="3.7" class="t">38</text>
<polyline points="346,552.5 355,550.5" fill="none" stroke="#151515" stroke-width="0.8"/>
<text transform="translate(350 564.2) scale(0.72 1)" y="3.7" class="t">37</text>
<polyline points="351.5,560.5 356,555.5" fill="none" stroke="#151515" stroke-width="0.8"/>
<rect x="393.6" y="504.5" width="6.4" height="3" rx="0" fill="#fff" stroke="#151515" stroke-width="0.6"/>
<rect x="393.3" y="507.5" width="7" height="7" rx="0" fill="#333" stroke="#222" stroke-width="0.6"/>
<path d="M392.2,514.5 L401.8,514.5 L400,519 L400,541 L393.6,541 L393.6,519 Z" fill="#fff" stroke="#151515" stroke-width="0.9" />
<rect x="394.2" y="541" width="5.2" height="5" rx="0" fill="#fff" stroke="#151515" stroke-width="0.8"/>
<polyline points="398.8,524 398.8,536" fill="none" stroke="#151515" stroke-width="1.0"/>
<text transform="translate(415.6 500.5) scale(0.72 1)" y="3.7" class="t">44</text>
<polyline points="410,503.6 400.5,510.5" fill="none" stroke="#151515" stroke-width="0.8"/>
<rect x="406.8" y="526" width="1.4" height="5" rx="0" fill="#111" stroke="#111" stroke-width="0.5"/>
<rect x="406.8" y="537.5" width="1.4" height="4.6" rx="0" fill="#111" stroke="#111" stroke-width="0.5"/>
<text transform="translate(418.8 521) scale(0.72 1)" y="3.7" class="t">45</text>
<polyline points="408.8,528.5 414,523.5" fill="none" stroke="#151515" stroke-width="0.8"/>
<text transform="translate(417.7 536.6) scale(0.72 1)" y="3.7" class="t">46</text>
<polyline points="408.8,539 413,537" fill="none" stroke="#151515" stroke-width="0.8"/>
<polyline points="396.8,546 396.8,693" fill="none" stroke="#151515" stroke-width="0.8"/>
<path d="M385.2,562.2 L385.2,566.2 A11.6,6.4 0 0 0 408.4,566.2 L408.4,562.2" fill="#fff" stroke="#151515" stroke-width="0.9" />
<line x1="385.3" y1="562.9" x2="385.3" y2="566.9" stroke="#222" stroke-width="1.1"/>
<line x1="385.5" y1="563.5" x2="385.5" y2="567.5" stroke="#222" stroke-width="1.1"/>
<line x1="385.8" y1="564.2" x2="385.8" y2="568.2" stroke="#222" stroke-width="1.1"/>
<line x1="386.2" y1="564.8" x2="386.2" y2="568.8" stroke="#222" stroke-width="1.1"/>
<line x1="386.8" y1="565.4" x2="386.8" y2="569.4" stroke="#222" stroke-width="1.1"/>
<line x1="387.4" y1="566" x2="387.4" y2="570" stroke="#222" stroke-width="1.1"/>
<line x1="388.2" y1="566.5" x2="388.2" y2="570.5" stroke="#222" stroke-width="1.1"/>
<line x1="389" y1="567" x2="389" y2="571" stroke="#222" stroke-width="1.1"/>
<line x1="390" y1="567.4" x2="390" y2="571.4" stroke="#222" stroke-width="1.1"/>
<line x1="391" y1="567.7" x2="391" y2="571.7" stroke="#222" stroke-width="1.1"/>
<line x1="392.1" y1="568" x2="392.1" y2="572" stroke="#222" stroke-width="1.1"/>
<line x1="393.2" y1="568.3" x2="393.2" y2="572.3" stroke="#222" stroke-width="1.1"/>
<line x1="394.4" y1="568.5" x2="394.4" y2="572.5" stroke="#222" stroke-width="1.1"/>
<line x1="395.6" y1="568.6" x2="395.6" y2="572.6" stroke="#222" stroke-width="1.1"/>
<line x1="396.8" y1="568.6" x2="396.8" y2="572.6" stroke="#222" stroke-width="1.1"/>
<line x1="398" y1="568.6" x2="398" y2="572.6" stroke="#222" stroke-width="1.1"/>
<line x1="399.2" y1="568.5" x2="399.2" y2="572.5" stroke="#222" stroke-width="1.1"/>
<line x1="400.4" y1="568.3" x2="400.4" y2="572.3" stroke="#222" stroke-width="1.1"/>
<line x1="401.5" y1="568" x2="401.5" y2="572" stroke="#222" stroke-width="1.1"/>
<line x1="402.6" y1="567.7" x2="402.6" y2="571.7" stroke="#222" stroke-width="1.1"/>
<line x1="403.6" y1="567.4" x2="403.6" y2="571.4" stroke="#222" stroke-width="1.1"/>
<line x1="404.6" y1="567" x2="404.6" y2="571" stroke="#222" stroke-width="1.1"/>
<line x1="405.4" y1="566.5" x2="405.4" y2="570.5" stroke="#222" stroke-width="1.1"/>
<line x1="406.2" y1="566" x2="406.2" y2="570" stroke="#222" stroke-width="1.1"/>
<line x1="406.8" y1="565.4" x2="406.8" y2="569.4" stroke="#222" stroke-width="1.1"/>
<line x1="407.4" y1="564.8" x2="407.4" y2="568.8" stroke="#222" stroke-width="1.1"/>
<line x1="407.8" y1="564.2" x2="407.8" y2="568.2" stroke="#222" stroke-width="1.1"/>
<line x1="408.1" y1="563.5" x2="408.1" y2="567.5" stroke="#222" stroke-width="1.1"/>
<line x1="408.3" y1="562.9" x2="408.3" y2="566.9" stroke="#222" stroke-width="1.1"/>
<ellipse cx="396.8" cy="562.2" rx="11.6" ry="6.4" fill="#fff" stroke="#151515" stroke-width="0.9"/>
<ellipse cx="396.8" cy="562.2" rx="3.6" ry="2" fill="none" stroke="#151515" stroke-width="0.8"/>
<text transform="translate(415.6 553.3) scale(0.72 1)" y="3.7" class="t">47</text>
<polyline points="405.5,557.5 411.5,555" fill="none" stroke="#151515" stroke-width="0.8"/>
<path d="M392,580.5 L392,585.5 A4.8,2.4 0 0 0 401.6,585.5 L401.6,580.5" fill="#fff" stroke="#151515" stroke-width="0.9" />
<ellipse cx="396.8" cy="580.5" rx="4.8" ry="2.4" fill="#fff" stroke="#151515" stroke-width="0.9"/>
<text transform="translate(412.5 578.4) scale(0.72 1)" y="3.7" class="t">48</text>
<polyline points="401.8,582.5 407.8,580" fill="none" stroke="#151515" stroke-width="0.8"/>
<path d="M388.8,596 L388.8,601 A8,4 0 0 0 404.8,601 L404.8,596" fill="#fff" stroke="#151515" stroke-width="0.9" />
<line x1="389" y1="596.8" x2="389" y2="601.8" stroke="#222" stroke-width="0.9"/>
<line x1="389.4" y1="597.5" x2="389.4" y2="602.5" stroke="#222" stroke-width="0.9"/>
<line x1="390.1" y1="598.2" x2="390.1" y2="603.2" stroke="#222" stroke-width="0.9"/>
<line x1="391.1" y1="598.8" x2="391.1" y2="603.8" stroke="#222" stroke-width="0.9"/>
<line x1="392.4" y1="599.3" x2="392.4" y2="604.3" stroke="#222" stroke-width="0.9"/>
<line x1="393.7" y1="599.7" x2="393.7" y2="604.7" stroke="#222" stroke-width="0.9"/>
<line x1="395.2" y1="599.9" x2="395.2" y2="604.9" stroke="#222" stroke-width="0.9"/>
<line x1="396.8" y1="600" x2="396.8" y2="605" stroke="#222" stroke-width="0.9"/>
<line x1="398.4" y1="599.9" x2="398.4" y2="604.9" stroke="#222" stroke-width="0.9"/>
<line x1="399.9" y1="599.7" x2="399.9" y2="604.7" stroke="#222" stroke-width="0.9"/>
<line x1="401.2" y1="599.3" x2="401.2" y2="604.3" stroke="#222" stroke-width="0.9"/>
<line x1="402.5" y1="598.8" x2="402.5" y2="603.8" stroke="#222" stroke-width="0.9"/>
<line x1="403.5" y1="598.2" x2="403.5" y2="603.2" stroke="#222" stroke-width="0.9"/>
<line x1="404.2" y1="597.5" x2="404.2" y2="602.5" stroke="#222" stroke-width="0.9"/>
<line x1="404.6" y1="596.8" x2="404.6" y2="601.8" stroke="#222" stroke-width="0.9"/>
<ellipse cx="396.8" cy="596" rx="8" ry="4" fill="#fff" stroke="#151515" stroke-width="0.9"/>
<ellipse cx="396.8" cy="596" rx="3" ry="1.6" fill="none" stroke="#151515" stroke-width="0.8"/>
<text transform="translate(415.6 593) scale(0.72 1)" y="3.7" class="t">49</text>
<polyline points="404.5,597 411,594.5" fill="none" stroke="#151515" stroke-width="0.8"/>
<path d="M392,612 L392,616.5 A4.8,2.4 0 0 0 401.6,616.5 L401.6,612" fill="#fff" stroke="#151515" stroke-width="0.9" />
<ellipse cx="396.8" cy="612" rx="4.8" ry="2.4" fill="#fff" stroke="#151515" stroke-width="0.9"/>
<text transform="translate(416.7 606.6) scale(0.72 1)" y="3.7" class="t">50</text>
<polyline points="401.8,612 412,607.5" fill="none" stroke="#151515" stroke-width="0.8"/>
<path d="M390.8,626.5 L390.8,629.5 A6,3.5 0 0 0 402.8,629.5 L402.8,626.5" fill="#fff" stroke="#151515" stroke-width="0.9" />
<ellipse cx="396.8" cy="626.5" rx="6" ry="3.5" fill="#fff" stroke="#151515" stroke-width="0.9"/>
<ellipse cx="396.8" cy="626.5" rx="4.3" ry="2.5" fill="none" stroke="#333" stroke-width="1.32" stroke-dasharray="1.2,0.7"/>
<ellipse cx="396.8" cy="626.5" rx="2.7" ry="1.6" fill="#fff" stroke="#151515" stroke-width="0.9"/>
<text transform="translate(416.7 621.3) scale(0.72 1)" y="3.7" class="t">51</text>
<polyline points="402.8,627.5 412,622.5" fill="none" stroke="#151515" stroke-width="0.8"/>
<ellipse cx="396.8" cy="641" rx="2.9" ry="1.8" fill="#fff" stroke="#151515" stroke-width="1.0"/>
<text transform="translate(411.4 634.8) scale(0.72 1)" y="3.7" class="t">52</text>
<polyline points="399.5,640 406.5,636" fill="none" stroke="#151515" stroke-width="0.8"/>
<rect x="445.4" y="529.2" width="1.4" height="5.2" rx="0" fill="#111" stroke="#111" stroke-width="0.5"/>
<text transform="translate(459.5 525) scale(0.72 1)" y="3.7" class="t">56</text>
<polyline points="447.5,531 454,527" fill="none" stroke="#151515" stroke-width="0.8"/>
<rect x="432.8" y="521" width="6" height="4" rx="0" fill="#fff" stroke="#151515" stroke-width="0.6"/>
<rect x="432.5" y="525" width="6.6" height="8" rx="0" fill="#3a3a3a" stroke="#222" stroke-width="0.6"/>
<path d="M432.4,533 L439.2,533 L439.2,555 L432.4,555 Z" fill="#fff" stroke="#151515" stroke-width="0.9" />
<path d="M428.8,556 L428.8,562 A7,3 0 0 0 442.8,562 L442.8,556" fill="#fff" stroke="#151515" stroke-width="0.9" />
<line x1="429" y1="556.7" x2="429" y2="562.7" stroke="#222" stroke-width="1.1"/>
<line x1="429.5" y1="557.3" x2="429.5" y2="563.3" stroke="#222" stroke-width="1.1"/>
<line x1="430.3" y1="557.9" x2="430.3" y2="563.9" stroke="#222" stroke-width="1.1"/>
<line x1="431.4" y1="558.3" x2="431.4" y2="564.3" stroke="#222" stroke-width="1.1"/>
<line x1="432.8" y1="558.7" x2="432.8" y2="564.7" stroke="#222" stroke-width="1.1"/>
<line x1="434.2" y1="558.9" x2="434.2" y2="564.9" stroke="#222" stroke-width="1.1"/>
<line x1="435.8" y1="559" x2="435.8" y2="565" stroke="#222" stroke-width="1.1"/>
<line x1="437.4" y1="558.9" x2="437.4" y2="564.9" stroke="#222" stroke-width="1.1"/>
<line x1="438.8" y1="558.7" x2="438.8" y2="564.7" stroke="#222" stroke-width="1.1"/>
<line x1="440.2" y1="558.3" x2="440.2" y2="564.3" stroke="#222" stroke-width="1.1"/>
<line x1="441.3" y1="557.9" x2="441.3" y2="563.9" stroke="#222" stroke-width="1.1"/>
<line x1="442.1" y1="557.3" x2="442.1" y2="563.3" stroke="#222" stroke-width="1.1"/>
<line x1="442.6" y1="556.7" x2="442.6" y2="562.7" stroke="#222" stroke-width="1.1"/>
<ellipse cx="435.8" cy="556" rx="7" ry="3" fill="#fff" stroke="#151515" stroke-width="0.9"/>
<path d="M433,565 L438.6,565 L438.6,570 L433,570 Z" fill="#fff" stroke="#151515" stroke-width="0.9" />
<text transform="translate(457.4 542.9) scale(0.72 1)" y="3.7" class="t">55</text>
<polyline points="438,549 452.5,544.5" fill="none" stroke="#151515" stroke-width="0.8"/>
<path d="M428.5,577 L428.5,580 A7,3.8 0 0 0 442.5,580 L442.5,577" fill="#fff" stroke="#151515" stroke-width="0.9" />
<ellipse cx="435.5" cy="577" rx="7" ry="3.8" fill="#fff" stroke="#151515" stroke-width="0.9"/>
<ellipse cx="435.5" cy="577" rx="5" ry="2.7" fill="none" stroke="#333" stroke-width="1.54" stroke-dasharray="1.4,0.8"/>
<ellipse cx="435.5" cy="577" rx="3.1" ry="1.7" fill="#fff" stroke="#151515" stroke-width="0.9"/>
<text transform="translate(461.6 571) scale(0.72 1)" y="3.7" class="t">54</text>
<polyline points="441.5,578 456.8,573" fill="none" stroke="#151515" stroke-width="0.8"/>
<ellipse cx="435.5" cy="591" rx="2.9" ry="1.7" fill="#fff" stroke="#151515" stroke-width="1.0"/>
<text transform="translate(458.5 587.8) scale(0.72 1)" y="3.7" class="t">53</text>
<polyline points="439,591 453.5,589" fill="none" stroke="#151515" stroke-width="0.8"/>
<polyline points="435.5,569 435.5,574" fill="none" stroke="#151515" stroke-width="0.8"/>
<polyline points="435.5,593 435.5,625.4 409.3,642 409.3,691" fill="none" stroke="#151515" stroke-width="0.8"/>
<path d="M491,294 L491,299 A5,2.4 0 0 0 501,299 L501,294" fill="#333" stroke="#151515" stroke-width="0.9" />
<ellipse cx="496" cy="294" rx="5" ry="2.4" fill="#fff" stroke="#151515" stroke-width="0.9"/>
<ellipse cx="496" cy="294" rx="1.2" ry="0.7" fill="none" stroke="#151515" stroke-width="0.6"/>
<text transform="translate(518.5 275.5) scale(0.72 1)" y="3.7" class="t">57</text>
<polyline points="512,278.8 499.7,292" fill="none" stroke="#151515" stroke-width="0.8"/>
<polyline points="505.5,293.5 505.5,296" fill="none" stroke="#151515" stroke-width="0.7"/>
<rect x="504.6" y="296" width="2" height="8" rx="0" fill="#333" stroke="#222" stroke-width="0.5"/>
<polyline points="505.5,304 505.5,312.4" fill="none" stroke="#151515" stroke-width="0.7"/>
<text transform="translate(531.6 281.3) scale(0.72 1)" y="3.7" class="t">58</text>
<polyline points="526,284.2 507,296.8" fill="none" stroke="#151515" stroke-width="0.8"/>
<polyline points="496,300 496,316" fill="none" stroke="#151515" stroke-width="0.7"/>
<path d="M483.5,307 L519.2,307.3 Q520.5,308 520,309.5 L509.2,329.3 Q508.6,330.3 507.5,330.3 L473.2,330.3 Q472,329.7 472.5,328.5 Z" fill="#fff" stroke="#151515" stroke-width="0.9" />
<path d="M472.5,328.5 L472.6,331.5 Q473,332.7 474,332.7 L508,332.7 L509.2,331.6 L509.2,329.3" fill="none" stroke="#151515" stroke-width="0.9" />
<path d="M520,309.5 L520,312 L509.2,331.6" fill="none" stroke="#151515" stroke-width="0.9" />
<ellipse cx="496" cy="317" rx="8.3" ry="5" fill="#fff" stroke="#151515" stroke-width="0.9"/>
<ellipse cx="496" cy="314.3" rx="6.2" ry="3.4" fill="none" stroke="#151515" stroke-width="0.8"/>
<ellipse cx="496" cy="314.3" rx="1.4" ry="0.8" fill="none" stroke="#151515" stroke-width="0.7"/>
<rect x="486" y="308.5" width="3.5" height="1.2" rx="0" fill="#444" stroke="#444" stroke-width="0.4"/>
<rect x="513" y="308.5" width="3.5" height="1.2" rx="0" fill="#444" stroke="#444" stroke-width="0.4"/>
<ellipse cx="477.5" cy="326.5" rx="2.2" ry="1" fill="none" stroke="#151515" stroke-width="0.7"/>
<ellipse cx="503.5" cy="326.5" rx="2.2" ry="1" fill="none" stroke="#151515" stroke-width="0.7"/>
<circle cx="487" cy="312.5" r="0.6" fill="#111"/>
<circle cx="507" cy="327" r="0.6" fill="#111"/>
<text transform="translate(538 307.5) scale(0.72 1)" y="3.7" class="t">59</text>
<polyline points="533.3,308.3 510.4,318" fill="none" stroke="#151515" stroke-width="0.8"/>
<polyline points="496,332.7 496,380" fill="none" stroke="#151515" stroke-width="0.7"/>
<rect x="492.6" y="338" width="6.8" height="5" rx="1.5" fill="#fff" stroke="#151515" stroke-width="1.0"/>
<rect x="494.6" y="339.2" width="2.8" height="2.6" rx="0" fill="#444" stroke="#444" stroke-width="0.6"/>
<text transform="translate(520 335.3) scale(0.72 1)" y="3.7" class="t">60</text>
<polyline points="499.5,340 514.5,336" fill="none" stroke="#151515" stroke-width="0.8"/>
<path d="M499,349.5 A3.4,2 0 1 0 499,353.6" fill="none" stroke="#151515" stroke-width="1.4" />
<path d="M492.5,351.5 L494,351.5" fill="none" stroke="#151515" stroke-width="0.8" />
<text transform="translate(518.5 349.2) scale(0.72 1)" y="3.7" class="t">61</text>
<polyline points="499.5,352.5 513,349.8" fill="none" stroke="#151515" stroke-width="0.8"/>
<path d="M490.4,361 L490.4,363.6 A5.6,3.4 0 0 0 501.6,363.6 L501.6,361" fill="#fff" stroke="#151515" stroke-width="0.9" />
<ellipse cx="496" cy="361" rx="5.6" ry="3.4" fill="#fff" stroke="#151515" stroke-width="0.9"/>
<ellipse cx="496" cy="361" rx="4" ry="2.4" fill="none" stroke="#333" stroke-width="1.232" stroke-dasharray="1.1,0.7"/>
<ellipse cx="496" cy="361" rx="2.5" ry="1.5" fill="#fff" stroke="#151515" stroke-width="0.9"/>
<text transform="translate(527.5 359.8) scale(0.72 1)" y="3.7" class="t">62</text>
<polyline points="501.5,363.5 521.5,360.5" fill="none" stroke="#151515" stroke-width="0.8"/>
<path d="M494.5,371.3 L497.5,371.3 L498.5,377 L493.5,377 Z" fill="#333" stroke="#151515" stroke-width="0.7" />
<rect x="493.5" y="377" width="5" height="5" rx="0" fill="#fff" stroke="#151515" stroke-width="0.7"/>
<path d="M488.3,382 L503.8,382 L503.8,397 A7.75,2.6 0 0 1 488.3,397 Z" fill="#fff" stroke="#151515" stroke-width="0.9" />
<ellipse cx="496" cy="382.5" rx="7.8" ry="2.3" fill="none" stroke="#151515" stroke-width="0.8"/>
<polyline points="490,378.5 490,388" fill="none" stroke="#151515" stroke-width="0.7"/>
<polyline points="492.5,378.5 492.5,388" fill="none" stroke="#151515" stroke-width="0.7"/>
<polyline points="495,378.5 495,388" fill="none" stroke="#151515" stroke-width="0.7"/>
<polyline points="497.5,378.5 497.5,388" fill="none" stroke="#151515" stroke-width="0.7"/>
<polyline points="500,378.5 500,388" fill="none" stroke="#151515" stroke-width="0.7"/>
<polyline points="502.5,378.5 502.5,388" fill="none" stroke="#151515" stroke-width="0.7"/>
<path d="M494.5,399.5 L497.5,399.5 L497,406 L495,406 Z" fill="#fff" stroke="#151515" stroke-width="0.8" />
<polyline points="496,406 496,420" fill="none" stroke="#151515" stroke-width="0.7"/>
<text transform="translate(527 390) scale(0.72 1)" y="3.7" class="t">63</text>
<polyline points="503.5,394 521,390.5" fill="none" stroke="#151515" stroke-width="0.8"/>
<path d="M485,425 L485,440 A11,5 0 0 0 507,440 L507,425" fill="#fff" stroke="#151515" stroke-width="0.9" />
<path d="M486.5,440 L486.5,443 A9.5,4 0 0 0 505.5,443 L505.5,440" fill="#fff" stroke="#151515" stroke-width="0.9" />
<ellipse cx="496" cy="425" rx="11" ry="5.6" fill="#fff" stroke="#151515" stroke-width="0.9"/>
<ellipse cx="496" cy="425.5" rx="8" ry="3.8" fill="none" stroke="#151515" stroke-width="0.9"/>
<path d="M485,431 A11,5 0 0 0 507,431" fill="none" stroke="#151515" stroke-width="0.7" />
<rect x="500" y="440.8" width="3.5" height="2" rx="0" fill="#444" stroke="#444" stroke-width="0.4"/>
<path d="M506.5,429.0 Q510,427.0 516.5,419.5" fill="none" stroke="#151515" stroke-width="0.5" />
<path d="M506.5,429.8 Q510,427.2 516.8,421.9" fill="none" stroke="#151515" stroke-width="0.5" />
<path d="M506.5,430.6 Q510,427.4 517.1,424.3" fill="none" stroke="#151515" stroke-width="0.5" />
<path d="M506.5,431.4 Q510,427.6 517.4,426.7" fill="none" stroke="#151515" stroke-width="0.5" />
<path d="M506.5,432.2 Q510,427.8 517.7,429.1" fill="none" stroke="#151515" stroke-width="0.5" />
<path d="M506.5,433.0 Q510,428.0 518.0,431.5" fill="none" stroke="#151515" stroke-width="0.5" />
<text transform="translate(550 427) scale(0.72 1)" y="3.7" class="t">64</text>
<polyline points="507,435 542,428.5" fill="none" stroke="#151515" stroke-width="0.8"/>
<path d="M483,460 L483,483 A13.5,7 0 0 0 510,483 L510,460" fill="#fff" stroke="#151515" stroke-width="0.9" />
<ellipse cx="496.5" cy="460" rx="13.5" ry="7" fill="#fff" stroke="#151515" stroke-width="0.9"/>
<ellipse cx="496.5" cy="460.5" rx="11.5" ry="5.6" fill="none" stroke="#151515" stroke-width="0.8"/>
<circle cx="506" cy="477" r="0.6" fill="#111"/>
<path d="M514,478.5 L522,482.5" fill="none" stroke="#333" stroke-width="1.8" />
<text transform="translate(547 461) scale(0.72 1)" y="3.7" class="t">65</text>
<polyline points="508,471 539,463" fill="none" stroke="#151515" stroke-width="0.8"/>
<text transform="translate(550 486) scale(0.72 1)" y="3.7" class="t">66</text>
<polyline points="522,483.2 545,487" fill="none" stroke="#151515" stroke-width="0.8"/>
<polyline points="496.5,446 496.5,462" fill="none" stroke="#151515" stroke-width="0.7"/>
<path d="M491.6,498 L491.6,500.2 A5.4,3.2 0 0 0 502.4,500.2 L502.4,498" fill="#fff" stroke="#151515" stroke-width="0.9" />
<ellipse cx="497" cy="498" rx="5.4" ry="3.2" fill="#fff" stroke="#151515" stroke-width="0.9"/>
<ellipse cx="497" cy="498" rx="3.9" ry="2.3" fill="none" stroke="#333" stroke-width="1.2" stroke-dasharray="1.1,0.6"/>
<ellipse cx="497" cy="498" rx="2.4" ry="1.4" fill="#fff" stroke="#151515" stroke-width="0.9"/>
<text transform="translate(522 499.4) scale(0.72 1)" y="3.7" class="t">67</text>
<polyline points="503,500 517,499.4" fill="none" stroke="#151515" stroke-width="0.8"/>
<polyline points="496.6,502 496.6,513" fill="none" stroke="#151515" stroke-width="0.7"/>
<path d="M483.2,518 L483.2,521.5 A13.4,6.5 0 0 0 510,521.5 L510,518" fill="#fff" stroke="#151515" stroke-width="0.9" />
<path d="M485,521.5 L485,524 A11.6,5 0 0 0 508.2,524 L508.2,521.5" fill="#fff" stroke="#151515" stroke-width="0.9" />
<ellipse cx="496.6" cy="518" rx="13.4" ry="6.8" fill="#fff" stroke="#151515" stroke-width="0.9"/>
<ellipse cx="496.6" cy="519" rx="5.2" ry="2.8" fill="none" stroke="#151515" stroke-width="1.3"/>
<path d="M485.5,523 A11.6,5 0 0 0 507.8,523" fill="none" stroke="#333" stroke-width="1.5" />
<text transform="translate(539 518) scale(0.72 1)" y="3.7" class="t">68</text>
<polyline points="508,523 533,519" fill="none" stroke="#151515" stroke-width="0.8"/>
<polyline points="505,528.5 512.4,535.5" fill="none" stroke="#151515" stroke-width="0.6"/>
<rect x="511.6" y="536.3" width="1.6" height="8.6" rx="0" fill="#222" stroke="#222" stroke-width="0.5"/>
<text transform="translate(551 536) scale(0.72 1)" y="3.7" class="t">69</text>
<polyline points="513.5,541 544,537" fill="none" stroke="#151515" stroke-width="0.8"/>
<path d="M487.5,543 L490.6,540 L492,537.5 L494,539.6 L497,537 L499,539.6 L502,538 L502.5,541 L506,543 L502.5,545 L503,548 L499,546.5 L497,549 L494,546.5 L491,548 L491,545.5 Z" fill="#fff" stroke="#151515" stroke-width="0.8" />
<ellipse cx="496.6" cy="543" rx="2.5" ry="1.6" fill="none" stroke="#151515" stroke-width="0.8"/>
<text transform="translate(529 558) scale(0.72 1)" y="3.7" class="t">70</text>
<polyline points="502,546.5 523,557" fill="none" stroke="#151515" stroke-width="0.8"/>
<ellipse cx="496.6" cy="554" rx="1.9" ry="1.2" fill="none" stroke="#151515" stroke-width="0.8"/>
<text transform="translate(513 571) scale(0.72 1)" y="3.7" class="t">71</text>
<polyline points="498.3,555.5 507,568" fill="none" stroke="#151515" stroke-width="0.8"/>
<polyline points="496.6,525 496.6,537" fill="none" stroke="#151515" stroke-width="0.7"/>
<polyline points="496.6,556 496.6,599" fill="none" stroke="#333" stroke-width="0.85" stroke-dasharray="26,4.5,5,4.5"/>
<polyline points="496.6,599 437.2,635.5" fill="none" stroke="#333" stroke-width="0.85" stroke-dasharray="26,4.5,5,4.5"/>
<polyline points="437.2,635.5 437.2,671" fill="none" stroke="#151515" stroke-width="0.8"/>
<path d="M450.7,634.6 Q454.5,632.6 457,636.5 L475.6,671 Q476.6,673 476.6,676 L476.6,692.3 L392.5,739.4 Q379,741.8 366.4,738.6 L356,720.5 L357,705 L360.2,703.4 C360.5,692 370,678 389.3,671.5 Z" fill="#fff" stroke="#151515" stroke-width="0.9" />
<path d="M357,705 L367.2,722.2 Q379,726.5 391.8,724.3 L476.6,675.8" fill="none" stroke="#151515" stroke-width="0.9" />
<path d="M367.2,722.2 L366.4,738.6 M391.8,724.3 L392.5,739.4" fill="none" stroke="#151515" stroke-width="0.9" />
<path d="M393,736.7 L476.6,689" fill="none" stroke="#151515" stroke-width="0.6" />
<ellipse cx="361.6" cy="722.3" rx="2.6" ry="4.3" fill="none" stroke="#151515" stroke-width="0.9" transform="rotate(-28 361.6 722.3)"/>
<ellipse cx="361.6" cy="722.3" rx="1.5" ry="2.8" fill="none" stroke="#151515" stroke-width="0.6" transform="rotate(-28 361.6 722.3)"/>
<ellipse cx="401.1" cy="728.2" rx="3.8" ry="2.4" fill="none" stroke="#151515" stroke-width="0.9" transform="rotate(-28 401.1 728.2)"/>
<path d="M417,713.8 L429.6,706.6 L429.6,713.2 L417,720.4 Z" fill="none" stroke="#151515" stroke-width="0.9" />
<path d="M418.5,716.5 L428.5,710.8 M418.5,718.3 L428.5,712.6" fill="none" stroke="#151515" stroke-width="0.5" />
<polyline points="426,708.5 426,711.5" fill="none" stroke="#151515" stroke-width="0.6"/>
<path d="M432.6,705 L432.6,717.4 L418,725.6" fill="none" stroke="#151515" stroke-width="0.7" />
<ellipse cx="390" cy="698" rx="21.9" ry="19.5" fill="#fff" stroke="#151515" stroke-width="0.9" transform="rotate(-8 390 698)"/>
<path d="M369.5,700 C370,687 380,680 395,679.5" fill="none" stroke="#333" stroke-width="1.4" />
<path d="M368.8,698.9 L395.8,683.7" fill="none" stroke="#151515" stroke-width="0.8" />
<ellipse cx="396.6" cy="696.2" rx="5.3" ry="4.2" fill="none" stroke="#151515" stroke-width="0.9"/>
<path d="M380.3,717.4 C381,707 397,703 399.8,713.4" fill="none" stroke="#151515" stroke-width="0.9" />
<path d="M380.8,716 C382,709 396,705 398.6,713" fill="none" stroke="#151515" stroke-width="0.6" />
<path d="M404.4,704.8 C403,700 407,696.5 409.8,697.2" fill="none" stroke="#151515" stroke-width="0.9" />
<circle cx="376.6" cy="681.7" r="0.8" fill="#111"/>
<circle cx="366" cy="696.4" r="0.8" fill="#111"/>
<circle cx="372" cy="716.5" r="0.8" fill="#111"/>
<circle cx="403.6" cy="714.4" r="0.8" fill="#111"/>
<circle cx="414.6" cy="697.6" r="0.8" fill="#111"/>
<ellipse cx="408.6" cy="668.8" rx="1.9" ry="1.7" fill="none" stroke="#151515" stroke-width="0.8"/>
<polyline points="407.3,668.8 409.9,668.8" fill="none" stroke="#151515" stroke-width="0.6"/>
<ellipse cx="446.6" cy="646.7" rx="2.5" ry="2.2" fill="none" stroke="#151515" stroke-width="0.8"/>
<polyline points="444.9,646.7 448.4,646.7" fill="none" stroke="#151515" stroke-width="0.6"/>
<ellipse cx="464.6" cy="673.7" rx="2.5" ry="2.2" fill="none" stroke="#151515" stroke-width="0.8"/>
<polyline points="462.9,673.7 466.4,673.7" fill="none" stroke="#151515" stroke-width="0.6"/>
<ellipse cx="426.2" cy="697" rx="2.5" ry="2.2" fill="none" stroke="#151515" stroke-width="0.8"/>
<polyline points="424.4,697 427.9,697" fill="none" stroke="#151515" stroke-width="0.6"/>
<ellipse cx="436.6" cy="671.2" rx="22.3" ry="20" fill="#fff" stroke="#151515" stroke-width="0.9" transform="rotate(-8 436.6 671.2)"/>
<path d="M415.5,668.5 C418,657 430,651.5 441,651.5" fill="none" stroke="#333" stroke-width="1.3" />
<path d="M415.5,670.4 L445.8,652" fill="none" stroke="#151515" stroke-width="0.8" />
<path d="M416.4,682.3 C420,670 436,663 446,665 C452,666 456,670 457.3,674" fill="none" stroke="#333" stroke-width="1.2" />
<path d="M417.6,683.6 C421,672 436,665.5 446,667" fill="none" stroke="#151515" stroke-width="0.6" />
<text transform="translate(521 643.8) scale(0.72 1)" y="3.7" class="t">72</text>
<polyline points="512.8,646.2 464.2,662.6" fill="none" stroke="#151515" stroke-width="0.8"/>
<polyline points="389.5,654.5 389.5,712" fill="none" stroke="#555" stroke-width="0.9"/>
<polyline points="390,739.4 390,760" fill="none" stroke="#151515" stroke-width="0.9"/>
<polyline points="396.8,643 396.8,697" fill="none" stroke="#333" stroke-width="0.85" stroke-dasharray="26,4.5,5,4.5"/>
<polyline points="410,642 410,699" fill="none" stroke="#151515" stroke-width="0.8"/>
<polyline points="462.5,741 658.6,627.7" fill="none" stroke="#333" stroke-width="0.85" stroke-dasharray="26,4.5,5,4.5"/>
<polyline points="658.6,627.7 658.6,916" fill="none" stroke="#333" stroke-width="0.85" stroke-dasharray="26,4.5,5,4.5"/>
<path d="M423.2,731.1 L449.4,716.4 L449.4,728.2 L423.2,743 Z" fill="#fff" stroke="#151515" stroke-width="1.0" />
<circle cx="449.4" cy="728.2" r="0.9" fill="#111"/>
<text transform="translate(464.6 725.4) scale(0.72 1)" y="3.7" class="t">73</text>
<polyline points="446.6,723 458,725.8" fill="none" stroke="#151515" stroke-width="0.8"/>
<path d="M435.9,716.4 L436.7,755.6 L450.6,748.3 M435.9,716.4 L463.7,700.5" fill="none" stroke="#151515" stroke-width="0.8" />
<ellipse cx="436.7" cy="731.1" rx="4.6" ry="4.1" fill="#fff" stroke="#151515" stroke-width="1.1"/>
<path d="M432.5,729.5 A4.6,4.1 0 0 1 441,728.5" fill="none" stroke="#333" stroke-width="1.6" />
<ellipse cx="428.6" cy="735.2" rx="3.4" ry="3" fill="#fff" stroke="#222" stroke-width="1.8"/>
<ellipse cx="429.3" cy="735.6" rx="1.6" ry="1.3" fill="none" stroke="#151515" stroke-width="0.8"/>
<text transform="translate(456.4 735.6) scale(0.72 1)" y="3.7" class="t">74</text>
<polyline points="441.6,731.9 451.5,734.4" fill="none" stroke="#151515" stroke-width="0.8"/>
<text transform="translate(469.9 747.5) scale(0.72 1)" y="3.7" class="t">74A</text>
<polyline points="436.7,737.2 462.1,745" fill="none" stroke="#151515" stroke-width="0.8"/>
<polyline points="423.2,742.6 430.2,748.7" fill="none" stroke="#151515" stroke-width="0.8"/>
<polyline points="427.5,746.3 430.2,748.7" fill="none" stroke="#151515" stroke-width="1.8"/>
<text transform="translate(442 746.6) scale(0.72 1)" y="3.7" class="t">75</text>
<polyline points="430,747.5 436.7,747.5" fill="none" stroke="#151515" stroke-width="0.8"/>
<polyline points="401.1,728.2 413,743.4" fill="none" stroke="#151515" stroke-width="0.8"/>
<path d="M412.2,745 Q414,743 418,743.5 L421.5,746.5 L422,755.5 L417.5,758 L414,757 L412.5,752 Z" fill="#fff" stroke="#111" stroke-width="1.7" />
<path d="M416,743.6 L420.5,745.5" fill="none" stroke="#111" stroke-width="2.0" />
<path d="M414.5,747 L419.5,752 M419,747.5 L415,751.5" fill="none" stroke="#555" stroke-width="0.6" />
<path d="M414.8,752.5 L414.8,760.5" fill="none" stroke="#111" stroke-width="3.2" />
<ellipse cx="414.8" cy="753.2" rx="2.2" ry="1.6" fill="#111" stroke="#111" stroke-width="0.5"/>
<path d="M419.4,760 L419.4,764.5" fill="none" stroke="#111" stroke-width="2.0" />
<polyline points="417.5,738 417.5,744" fill="none" stroke="#151515" stroke-width="0.8"/>
<text transform="translate(400 746.2) scale(0.72 1)" y="3.7" class="t">145</text>
<polyline points="406,746.2 411.8,747.5" fill="none" stroke="#151515" stroke-width="0.8"/>
<text transform="translate(401.5 756.9) scale(0.72 1)" y="3.7" class="t">146</text>
<polyline points="408.9,758.5 413.5,758.5" fill="none" stroke="#151515" stroke-width="0.8"/>
<path d="M423.5,763 C422,760.5 424.5,758.5 427,759.5 L432,765 L429,768.5 Z" fill="#fff" stroke="#151515" stroke-width="0.9" />
<path d="M426,765 L430,762" fill="none" stroke="#151515" stroke-width="0.7" />
<polyline points="433,763.8 439.7,758.7" fill="none" stroke="#151515" stroke-width="1.8"/>
<text transform="translate(454.7 756.5) scale(0.72 1)" y="3.7" class="t">76</text>
<polyline points="439.6,760.6 449,758.5" fill="none" stroke="#151515" stroke-width="0.8"/>
<ellipse cx="432" cy="771.2" rx="4.3" ry="4" fill="#fff" stroke="#151515" stroke-width="0.9"/>
<ellipse cx="432.3" cy="771.5" rx="2" ry="2.2" fill="none" stroke="#151515" stroke-width="0.8"/>
<text transform="translate(449.4 767.1) scale(0.72 1)" y="3.7" class="t">77</text>
<polyline points="435.6,767.8 444.5,767.1" fill="none" stroke="#151515" stroke-width="0.8"/>
<path d="M437,776 L448.5,775.5 Q451,776 451,778.5 L450.4,789.5 Q450,791.7 447.5,791.7 L437.5,791.5 Q435,791 435,788.5 L435,778.5 Q435.2,776.2 437,776 Z" fill="#fff" stroke="#151515" stroke-width="1.0" />
<rect x="438.5" y="779" width="9" height="9.5" rx="1" fill="none" stroke="#151515" stroke-width="0.8"/>
<ellipse cx="443" cy="783.8" rx="3" ry="3" fill="none" stroke="#444" stroke-width="1.2" stroke-dasharray="1.2,0.8"/>
<ellipse cx="443" cy="783.8" rx="1.5" ry="1.5" fill="none" stroke="#151515" stroke-width="0.6"/>
<text transform="translate(467.8 770.4) scale(0.72 1)" y="3.7" class="t">78</text>
<polyline points="448.2,777 463,772.8" fill="none" stroke="#151515" stroke-width="0.8"/>
<polyline points="451,784 454.7,787.4" fill="none" stroke="#151515" stroke-width="1.8"/>
<text transform="translate(473.6 781.4) scale(0.72 1)" y="3.7" class="t">79</text>
<polyline points="455,786.7 469,782.7" fill="none" stroke="#151515" stroke-width="0.8"/>
<polyline points="431.8,781.2 433.5,783.5" fill="none" stroke="#151515" stroke-width="1.8"/>
<polyline points="428,777.5 431.5,781" fill="none" stroke="#151515" stroke-width="0.7"/>
<text transform="translate(415 776.1) scale(0.72 1)" y="3.7" class="t">89</text>
<polyline points="420.4,777.3 428.5,779.5" fill="none" stroke="#151515" stroke-width="0.8"/>
<text transform="translate(419.8 792.3) scale(0.72 1)" y="3.7" class="t">88</text>
<polyline points="425.3,788.5 431.8,783.5" fill="none" stroke="#151515" stroke-width="0.8"/>
<path d="M448,795.5 Q448.5,792.5 451.5,793 L470.5,814 Q472.5,817.5 470,819 Q467.5,820 466,818 Z" fill="#fff" stroke="#151515" stroke-width="0.9" />
<path d="M464,812.5 Q466,809.5 469.5,811" fill="none" stroke="#151515" stroke-width="0.8" />
<polyline points="458,802 460.2,802.1" fill="none" stroke="#151515" stroke-width="0.8"/>
<text transform="translate(484.7 789) scale(0.72 1)" y="3.7" class="t">80</text>
<polyline points="460.2,802.1 481,791.2" fill="none" stroke="#151515" stroke-width="0.8"/>
<polyline points="471.6,800 471.6,807.5" fill="none" stroke="#151515" stroke-width="0.7"/>
<path d="M470.8,801.5 L471.6,799.8 L472.4,801.5" fill="none" stroke="#151515" stroke-width="0.7" />
<text transform="translate(490.7 801) scale(0.72 1)" y="3.7" class="t">81</text>
<polyline points="473.3,803.2 484.2,800.5" fill="none" stroke="#151515" stroke-width="0.8"/>
<path d="M472,820 Q475,816.5 479,818.5 L484.5,826.5 Q486.5,831 484,834 Q481.5,836 478.5,833 L471.5,825.5 Q470,822.5 472,820 Z" fill="#fff" stroke="#151515" stroke-width="0.9" />
<ellipse cx="481.5" cy="829" rx="3.5" ry="3.8" fill="none" stroke="#151515" stroke-width="0.8" transform="rotate(-35 481.5 829)"/>
<circle cx="482" cy="826.5" r="0.8" fill="#111"/>
<text transform="translate(511 803.7) scale(0.72 1)" y="3.7" class="t">82</text>
<polyline points="479.8,819.5 506,804.8" fill="none" stroke="#151515" stroke-width="0.8"/>
<path d="M485.3,822.3 L497.3,813.5" fill="none" stroke="#333" stroke-width="1.8" />
<path d="M486,821 L496,814.5" fill="none" stroke="#fff" stroke-width="0.5" />
<text transform="translate(516.4 819) scale(0.72 1)" y="3.7" class="t">83</text>
<polyline points="495,818.5 511,818.5" fill="none" stroke="#151515" stroke-width="0.8"/>
<polyline points="424.2,806 424.2,812" fill="none" stroke="#151515" stroke-width="0.7"/>
<circle cx="424.2" cy="812" r="1.3" fill="#111"/>
<circle cx="424.2" cy="817.4" r="1.2" fill="#111"/>
<polyline points="424.2,812 424.2,832" fill="none" stroke="#151515" stroke-width="0.7"/>
<ellipse cx="424.2" cy="824" rx="2.9" ry="1.9" fill="#222" stroke="#222" stroke-width="1.3"/>
<path d="M421,832 L421,834 A3.2,1.8 0 0 0 427.4,834 L427.4,832" fill="#fff" stroke="#151515" stroke-width="0.9" />
<ellipse cx="424.2" cy="832" rx="3.2" ry="1.8" fill="#333" stroke="#222" stroke-width="1.5"/>
<text transform="translate(439 803.2) scale(0.72 1)" y="3.7" class="t">87</text>
<polyline points="426.4,811.4 434.5,805.4" fill="none" stroke="#151515" stroke-width="0.8"/>
<text transform="translate(434.5 816.8) scale(0.72 1)" y="3.7" class="t">86</text>
<polyline points="427,817.4 430.5,817.2" fill="none" stroke="#151515" stroke-width="0.8"/>
<text transform="translate(442.2 828.8) scale(0.72 1)" y="3.7" class="t">85</text>
<polyline points="428,824.5 435.6,827.7" fill="none" stroke="#151515" stroke-width="0.8"/>
<text transform="translate(443.8 843) scale(0.72 1)" y="3.7" class="t">84</text>
<polyline points="427.5,834.8 440,842.5" fill="none" stroke="#151515" stroke-width="0.8"/>
<polyline points="390,760 390,790" fill="none" stroke="#151515" stroke-width="0.8"/>
<path d="M385.3,762.5 L385.3,767.5 A4.7,2.2 0 0 0 394.7,767.5 L394.7,762.5" fill="#fff" stroke="#151515" stroke-width="0.9" />
<ellipse cx="390" cy="762.5" rx="4.7" ry="2.2" fill="#fff" stroke="#151515" stroke-width="0.9"/>
<text transform="translate(363 755) scale(0.72 1)" y="3.7" class="t">90</text>
<polyline points="371,759 385,764" fill="none" stroke="#151515" stroke-width="0.8"/>
<path d="M382.6,778.6 L382.6,780 A7,4.4 0 0 0 396.6,780 L396.6,778.6" fill="#fff" stroke="#151515" stroke-width="1.3" />
<ellipse cx="389.6" cy="778.6" rx="7" ry="4.4" fill="#fff" stroke="#222" stroke-width="1.6"/>
<ellipse cx="389.6" cy="778.4" rx="4.6" ry="2.6" fill="none" stroke="#151515" stroke-width="0.8"/>
<text transform="translate(367 771) scale(0.72 1)" y="3.7" class="t">91</text>
<polyline points="372,773 383.5,778" fill="none" stroke="#151515" stroke-width="0.8"/>
<path d="M368.4,802.5 L368.4,809 A21.6,13.5 0 0 0 411.6,809 L411.6,802.5" fill="#fff" stroke="#151515" stroke-width="0.9" />
<ellipse cx="390" cy="802.5" rx="21.6" ry="13.5" fill="#fff" stroke="#151515" stroke-width="0.9"/>
<ellipse cx="390" cy="803" rx="15.3" ry="9.5" fill="none" stroke="#151515" stroke-width="0.9"/>
<line x1="374.7" y1="803" x2="376.8" y2="805.4" stroke="#222" stroke-width="1.2"/>
<line x1="374.8" y1="801.9" x2="376.9" y2="804.5" stroke="#222" stroke-width="1.2"/>
<line x1="375.1" y1="800.7" x2="377.2" y2="803.6" stroke="#222" stroke-width="1.2"/>
<line x1="375.7" y1="799.6" x2="377.7" y2="802.7" stroke="#222" stroke-width="1.2"/>
<line x1="376.5" y1="798.6" x2="378.3" y2="801.9" stroke="#222" stroke-width="1.2"/>
<line x1="377.4" y1="797.6" x2="379.1" y2="801.1" stroke="#222" stroke-width="1.2"/>
<line x1="378.5" y1="796.7" x2="380.1" y2="800.4" stroke="#222" stroke-width="1.2"/>
<line x1="379.9" y1="795.9" x2="381.2" y2="799.7" stroke="#222" stroke-width="1.2"/>
<line x1="381.3" y1="795.2" x2="382.5" y2="799.1" stroke="#222" stroke-width="1.2"/>
<line x1="382.9" y1="794.6" x2="383.9" y2="798.7" stroke="#222" stroke-width="1.2"/>
<line x1="384.6" y1="794.1" x2="385.3" y2="798.3" stroke="#222" stroke-width="1.2"/>
<line x1="386.3" y1="793.8" x2="386.8" y2="798" stroke="#222" stroke-width="1.2"/>
<line x1="388.2" y1="793.6" x2="388.4" y2="797.9" stroke="#222" stroke-width="1.2"/>
<line x1="390" y1="793.5" x2="390" y2="797.8" stroke="#222" stroke-width="1.2"/>
<line x1="391.8" y1="793.6" x2="391.6" y2="797.9" stroke="#222" stroke-width="1.2"/>
<line x1="393.7" y1="793.8" x2="393.2" y2="798" stroke="#222" stroke-width="1.2"/>
<line x1="395.4" y1="794.1" x2="394.7" y2="798.3" stroke="#222" stroke-width="1.2"/>
<line x1="397.1" y1="794.6" x2="396.1" y2="798.7" stroke="#222" stroke-width="1.2"/>
<line x1="398.7" y1="795.2" x2="397.5" y2="799.1" stroke="#222" stroke-width="1.2"/>
<line x1="400.1" y1="795.9" x2="398.8" y2="799.7" stroke="#222" stroke-width="1.2"/>
<line x1="401.5" y1="796.7" x2="399.9" y2="800.4" stroke="#222" stroke-width="1.2"/>
<line x1="402.6" y1="797.6" x2="400.9" y2="801.1" stroke="#222" stroke-width="1.2"/>
<line x1="403.5" y1="798.6" x2="401.7" y2="801.9" stroke="#222" stroke-width="1.2"/>
<line x1="404.3" y1="799.6" x2="402.3" y2="802.7" stroke="#222" stroke-width="1.2"/>
<line x1="404.9" y1="800.7" x2="402.8" y2="803.6" stroke="#222" stroke-width="1.2"/>
<line x1="405.2" y1="801.9" x2="403.1" y2="804.5" stroke="#222" stroke-width="1.2"/>
<line x1="405.3" y1="803" x2="403.2" y2="805.4" stroke="#222" stroke-width="1.2"/>
<path d="M376,806 Q383,811.5 390,812 Q397,811.5 404,806" fill="none" stroke="#151515" stroke-width="0.8" stroke-dasharray="2,1"/>
<ellipse cx="390" cy="803.2" rx="13.8" ry="8.6" fill="none" stroke="#151515" stroke-width="0.5"/>
<ellipse cx="371.3" cy="802.6" rx="1.1" ry="0.8" fill="none" stroke="#151515" stroke-width="0.6"/>
<ellipse cx="408.5" cy="802.6" rx="1.1" ry="0.8" fill="none" stroke="#151515" stroke-width="0.6"/>
<ellipse cx="380" cy="792" rx="1.1" ry="0.8" fill="none" stroke="#151515" stroke-width="0.6"/>
<ellipse cx="399.6" cy="792" rx="1.1" ry="0.8" fill="none" stroke="#151515" stroke-width="0.6"/>
<ellipse cx="380" cy="813.8" rx="1.1" ry="0.8" fill="none" stroke="#151515" stroke-width="0.6"/>
<ellipse cx="399" cy="813.8" rx="1.1" ry="0.8" fill="none" stroke="#151515" stroke-width="0.6"/>
<polyline points="371.3,800 371.3,805" fill="none" stroke="#151515" stroke-width="0.7"/>
<text transform="translate(349 786) scale(0.72 1)" y="3.7" class="t">92</text>
<polyline points="355,789 369.5,797.5" fill="none" stroke="#151515" stroke-width="0.8"/>
<polyline points="371.3,816 371.3,821.5" fill="none" stroke="#151515" stroke-width="0.7"/>
<rect x="370.3" y="821.5" width="2" height="5.3" rx="0" fill="#222" stroke="#222" stroke-width="0.5"/>
<path d="M370.3,826.8 L370.3,832 L371.3,834 L372.3,832 L372.3,826.8" fill="none" stroke="#151515" stroke-width="0.7" />
<polyline points="371.3,834 371.3,837.5" fill="none" stroke="#151515" stroke-width="0.7"/>
<text transform="translate(352 818) scale(0.72 1)" y="3.7" class="t">93</text>
<polyline points="358,820 370,828" fill="none" stroke="#151515" stroke-width="0.8"/>
<polyline points="390,822 390,836" fill="none" stroke="#151515" stroke-width="0.8"/>
<path d="M396.7,853 L396.7,865 A5.9,3 0 0 0 408.5,865 L408.5,853" fill="#fff" stroke="#151515" stroke-width="0.9" />
<path d="M371.9,842.8 L371.9,846.5 A18.3,11.2 0 0 0 408.5,846.5 L408.5,842.8" fill="#fff" stroke="#151515" stroke-width="0.9" />
<ellipse cx="390.2" cy="842.8" rx="18.3" ry="11.2" fill="#fff" stroke="#151515" stroke-width="0.9"/>
<path d="M375,846 C376,837 386,833 394,834.5 C401,836 406,840 406.5,846" fill="none" stroke="#151515" stroke-width="0.6" />
<path d="M378,850 L392,853.5 Q398,852 404,848" fill="none" stroke="#151515" stroke-width="0.6" />
<path d="M372,847 Q375,853 382,856 L391,856.5" fill="none" stroke="#151515" stroke-width="0.9" />
<path d="M384.4,838.5 L384.4,842.5 A5.6,2.8 0 0 0 395.6,842.5 L395.6,838.5" fill="#fff" stroke="#151515" stroke-width="0.9" />
<ellipse cx="390" cy="838.5" rx="5.6" ry="2.8" fill="#fff" stroke="#151515" stroke-width="0.9"/>
<ellipse cx="390" cy="838.5" rx="2.5" ry="1.3" fill="none" stroke="#151515" stroke-width="0.6"/>
<path d="M390.8,843.3 L385,848.5" fill="none" stroke="#151515" stroke-width="1.0" />
<path d="M400,843.5 Q403,841 406,843" fill="none" stroke="#151515" stroke-width="1.1" />
<text transform="translate(344 844) scale(0.72 1)" y="3.7" class="t">94</text>
<polyline points="350,846 374,853" fill="none" stroke="#151515" stroke-width="0.8"/>
<polyline points="424.2,835 424.2,838.6 402.7,832 402.7,875.5 425.5,883 425.5,886" fill="none" stroke="#151515" stroke-width="0.8"/>
<polyline points="390,856 390,895" fill="none" stroke="#151515" stroke-width="0.8"/>
<ellipse cx="390" cy="867.2" rx="4.7" ry="2.4" fill="#fff" stroke="#151515" stroke-width="1.2"/>
<ellipse cx="390" cy="867.2" rx="2.2" ry="1.1" fill="none" stroke="#151515" stroke-width="0.8"/>
<text transform="translate(355.5 864.5) scale(0.72 1)" y="3.7" class="t">95</text>
<polyline points="361.8,866 385.5,867.6" fill="none" stroke="#151515" stroke-width="0.8"/>
<path d="M385.4,879.5 L385.4,883.3 A4.6,2.6 0 0 0 394.6,883.3 L394.6,879.5" fill="#fff" stroke="#151515" stroke-width="0.9" />
<ellipse cx="390" cy="879.5" rx="4.6" ry="2.6" fill="#fff" stroke="#151515" stroke-width="0.9"/>
<ellipse cx="390" cy="879.5" rx="2.5" ry="1.4" fill="#222" stroke="#151515" stroke-width="1.5"/>
<text transform="translate(346.4 883.6) scale(0.72 1)" y="3.7" class="t">96</text>
<polyline points="352.7,883.6 385.5,882.4" fill="none" stroke="#151515" stroke-width="0.8"/>
<path d="M371.8,898 L371.8,913.6 A18.6,7 0 0 0 409.4,913.6 L409.4,898" fill="#fff" stroke="#151515" stroke-width="0.9" />
<ellipse cx="390.6" cy="898" rx="18.6" ry="7" fill="#fff" stroke="#151515" stroke-width="0.9"/>
<path d="M371.8,904 A18.6,7 0 0 1 409.4,904" fill="none" stroke="#151515" stroke-width="0.8" />
<polyline points="390.4,891 390.4,903.5" fill="none" stroke="#151515" stroke-width="0.8"/>
<text transform="translate(341 910) scale(0.72 1)" y="3.7" class="t">97</text>
<polyline points="348,910 371.8,910" fill="none" stroke="#151515" stroke-width="0.8"/>
<polyline points="390.4,922 390.4,936" fill="none" stroke="#151515" stroke-width="0.8"/>
<path d="M375.5,930.2 C362,936 356,945 357.3,952 C358,962 370,971 384,973 C393,973.5 400,972 405.4,970.9 L397.1,946.7 Z" fill="#fff" stroke="#fff" stroke-width="0.1" />
<line x1="374.8" y1="932.1" x2="360.8" y2="941" stroke="#111" stroke-width="1.9"/>
<line x1="374.2" y1="935.9" x2="357.6" y2="949.9" stroke="#111" stroke-width="1.9"/>
<line x1="375.5" y1="939.7" x2="360.8" y2="957.6" stroke="#111" stroke-width="1.9"/>
<line x1="377.4" y1="941.6" x2="364.6" y2="962.6" stroke="#111" stroke-width="1.9"/>
<line x1="379.9" y1="943.6" x2="369.7" y2="967.1" stroke="#111" stroke-width="1.9"/>
<line x1="383.1" y1="944.8" x2="374.8" y2="969.6" stroke="#111" stroke-width="1.9"/>
<line x1="386.3" y1="945.5" x2="379.3" y2="971.6" stroke="#111" stroke-width="1.9"/>
<line x1="389.5" y1="945.8" x2="384.4" y2="972.5" stroke="#111" stroke-width="1.9"/>
<line x1="392" y1="946.1" x2="389.5" y2="972.8" stroke="#111" stroke-width="1.9"/>
<line x1="394.6" y1="946.7" x2="396.5" y2="971.9" stroke="#111" stroke-width="1.9"/>
<path d="M375.5,930.2 C362,936 356,945 357.3,952 C358,962 370,971 384,973 C393,973.5 400,972 405.4,970.9" fill="none" stroke="#111" stroke-width="2.0" />
<path d="M374.5,932 C364,938 358.5,946 359.5,953" fill="none" stroke="#111" stroke-width="1.2" />
<polyline points="397.1,946.7 405.4,970.9" fill="none" stroke="#111" stroke-width="2.0"/>
<ellipse cx="390.4" cy="935.6" rx="16.2" ry="10.5" fill="#fff" stroke="#111" stroke-width="1.2"/>
<ellipse cx="390.4" cy="935.8" rx="14.4" ry="8.8" fill="none" stroke="#111" stroke-width="1.0"/>
<polyline points="390.4,926 390.4,936.5" fill="none" stroke="#151515" stroke-width="1.0"/>
<text transform="translate(329 965.5) scale(0.72 1)" y="3.7" class="t">147</text>
<polyline points="336.4,964.5 356.4,957.3" fill="none" stroke="#151515" stroke-width="0.8"/>
<ellipse cx="425.5" cy="889" rx="3.7" ry="2.2" fill="#333" stroke="#222" stroke-width="1.5"/>
<text transform="translate(448 880) scale(0.72 1)" y="3.7" class="t">98</text>
<polyline points="428.5,888.5 443.6,882.7" fill="none" stroke="#151515" stroke-width="0.8"/>
<ellipse cx="425.5" cy="897" rx="3.5" ry="2.1" fill="#fff" stroke="#222" stroke-width="1.3"/>
<text transform="translate(438 895.5) scale(0.72 1)" y="3.7" class="t">99</text>
<polyline points="430,896.5 433.5,896" fill="none" stroke="#151515" stroke-width="0.8"/>
<polyline points="425.5,891 425.5,894.5" fill="none" stroke="#151515" stroke-width="0.7"/>
<path d="M424,902.5 L425.5,900 L427,902.5" fill="none" stroke="#151515" stroke-width="0.8" />
<rect x="423.6" y="902.7" width="3.8" height="26.4" rx="0" fill="#fff" stroke="#151515" stroke-width="0.9"/>
<polyline points="423.6,910 427.4,910" fill="none" stroke="#151515" stroke-width="0.6"/>
<polyline points="423.6,914 427.4,914" fill="none" stroke="#151515" stroke-width="0.6"/>
<polyline points="431,905 431,908" fill="none" stroke="#151515" stroke-width="0.9"/>
<text transform="translate(445.5 904.5) scale(0.72 1)" y="3.7" class="t">100</text>
<polyline points="432.5,906.5 439,905" fill="none" stroke="#151515" stroke-width="0.8"/>
<text transform="translate(454.5 912.7) scale(0.72 1)" y="3.7" class="t">101</text>
<polyline points="427.5,918 447.3,913.6" fill="none" stroke="#151515" stroke-width="0.8"/>
<polyline points="427.4,928.5 433,931" fill="none" stroke="#151515" stroke-width="0.7"/>
<polyline points="433,930.6 441.5,932.2" fill="none" stroke="#151515" stroke-width="1.6"/>
<text transform="translate(468 925.5) scale(0.72 1)" y="3.7" class="t">102</text>
<polyline points="438,931 460,927.3" fill="none" stroke="#151515" stroke-width="0.8"/>
<polyline points="425,929 425,976" fill="none" stroke="#151515" stroke-width="0.8"/>
<ellipse cx="425" cy="997" rx="16.5" ry="19.2" fill="#fff" stroke="#151515" stroke-width="1.0"/>
<ellipse cx="425" cy="999" rx="3" ry="17" fill="none" stroke="#333" stroke-width="0.75"/>
<ellipse cx="425" cy="999" rx="6" ry="17" fill="none" stroke="#333" stroke-width="0.75"/>
<ellipse cx="425" cy="999" rx="9" ry="17" fill="none" stroke="#333" stroke-width="0.75"/>
<ellipse cx="425" cy="999" rx="12" ry="17" fill="none" stroke="#333" stroke-width="0.75"/>
<ellipse cx="425" cy="999" rx="14.5" ry="17" fill="none" stroke="#333" stroke-width="0.75"/>
<path d="M410,992 C414,1002 419,1010 425,1016 C431,1010 436,1002 440,992" fill="none" stroke="#333" stroke-width="0.7" />
<path d="M413,988 C418,998 421,1008 425,1016 C429,1008 432,998 437,988" fill="none" stroke="#333" stroke-width="0.7" />
<polyline points="425,990 425,1016" fill="none" stroke="#151515" stroke-width="1.1"/>
<ellipse cx="425" cy="983.5" rx="10.5" ry="6.5" fill="#fff" stroke="#151515" stroke-width="1.0"/>
<path d="M422,979 L422,986 Q425.5,987.5 429,986 L429,979" fill="#fff" stroke="#151515" stroke-width="0.9" />
<ellipse cx="425.5" cy="978.5" rx="3.6" ry="1.6" fill="#fff" stroke="#151515" stroke-width="1.4"/>
<text transform="translate(464 1012) scale(0.72 1)" y="3.7" class="t">103</text>
<polyline points="441,1006 457,1011" fill="none" stroke="#151515" stroke-width="0.8"/>
<path d="M365.5,977 L370,977 L370,985 C370,990 362,993 362,999 C362,1004 370,1006 373,1010 L376,1014 Q375,1016 371,1015 L357,1012 L357.5,1010 L368,1011 C362,1006 357,1004 357,997 C357,991 365,988 365.5,984 Z" fill="#fff" stroke="#151515" stroke-width="0.9" />
<ellipse cx="367.7" cy="977" rx="2.6" ry="1.4" fill="#fff" stroke="#151515" stroke-width="1.2"/>
<text transform="translate(385 1025) scale(0.72 1)" y="3.7" class="t">104</text>
<polyline points="369,1014 378,1024" fill="none" stroke="#151515" stroke-width="0.8"/>
<rect x="309.5" y="977" width="5" height="9" rx="0" fill="#fff" stroke="#151515" stroke-width="0.9"/>
<ellipse cx="312" cy="977" rx="2.6" ry="1.3" fill="#fff" stroke="#151515" stroke-width="1.2"/>
<path d="M299,988.5 L309.5,985 L314.5,985 L326,988.5 L326,1000 C326,1008 318,1014 312.5,1016 C306,1014 299,1008 299,1000 Z" fill="#fff" stroke="#151515" stroke-width="1.0" />
<path d="M302,990 L302,1004" fill="none" stroke="#151515" stroke-width="1.0" />
<path d="M305,990 L305,1004" fill="none" stroke="#151515" stroke-width="1.0" />
<path d="M308,990 L308,1004" fill="none" stroke="#151515" stroke-width="1.0" />
<path d="M316,990 L316,1004" fill="none" stroke="#151515" stroke-width="1.0" />
<path d="M319,990 L319,1004" fill="none" stroke="#151515" stroke-width="1.0" />
<path d="M322,990 L322,1004" fill="none" stroke="#151515" stroke-width="1.0" />
<path d="M312.5,990 L312.5,1016" fill="none" stroke="#151515" stroke-width="1.0" />
<path d="M301.5,1003 C304,1010 309,1013 312.5,1014 C316,1013 321,1010 323.5,1003" fill="none" stroke="#151515" stroke-width="0.8" />
<text transform="translate(335 1025) scale(0.72 1)" y="3.7" class="t">105</text>
<polyline points="319,1014 327,1025" fill="none" stroke="#151515" stroke-width="0.8"/>
<path d="M395.2,1046 L395.2,1067 C395.5,1082 410,1094 425.5,1094 C441,1094 455,1082 455,1066 L455,1046" fill="#fff" stroke="#151515" stroke-width="0.9" />
<ellipse cx="425.1" cy="1039.9" rx="31.9" ry="20.9" fill="#fff" stroke="#151515" stroke-width="1.0"/>
<ellipse cx="425.3" cy="1038.2" rx="30.6" ry="18.6" fill="none" stroke="#151515" stroke-width="0.9"/>
<path d="M441.5,1064.4 L449.6,1058.3 L457.4,1062 L450.5,1067.3 Z" fill="#fff" stroke="#151515" stroke-width="0.9" />
<path d="M443.5,1065.5 L443.5,1074.5 L447.5,1076.3 L452.5,1072 L452.5,1066" fill="#fff" stroke="#151515" stroke-width="0.9" />
<path d="M444.5,1066.5 L451.5,1073 M451.5,1067 L445,1072.5" fill="none" stroke="#151515" stroke-width="0.6" />
<text transform="translate(487 1085) scale(0.72 1)" y="3.7" class="t">106</text>
<polyline points="434.1,1082.8 473,1085.3" fill="none" stroke="#151515" stroke-width="0.8"/>
<polyline points="523.4,864.5 523.4,866.5" fill="none" stroke="#151515" stroke-width="0.7"/>
<rect x="522.6" y="866.5" width="1.8" height="9" rx="0" fill="#222" stroke="#222" stroke-width="0.5"/>
<polyline points="523.4,875.5 523.4,898" fill="none" stroke="#151515" stroke-width="0.7"/>
<circle cx="523.4" cy="892.6" r="1.1" fill="#111"/>
<circle cx="523.4" cy="896.7" r="1.3" fill="#111"/>
<text transform="translate(502 853.4) scale(0.72 1)" y="3.7" class="t">109</text>
<polyline points="509.6,856.3 523,865.8" fill="none" stroke="#151515" stroke-width="0.8"/>
<text transform="translate(509.6 887.7) scale(0.72 1)" y="3.7" class="t">108</text>
<polyline points="516,890.5 522,892.3" fill="none" stroke="#151515" stroke-width="0.8"/>
<text transform="translate(503.9 900) scale(0.72 1)" y="3.7" class="t">107</text>
<polyline points="510.5,897 521.5,896.7" fill="none" stroke="#151515" stroke-width="0.8"/>
<path d="M520.4,880.8 Q521,876 526,874.8 L530.5,874.3 C540,868 550,866 560,865.4 L560,861.5 Q563,860.5 566,862 L566,867 L584.2,879 L584.2,899 L578.5,902 C582,912 580,925 576.5,926 L576.5,931.5 Q574,934 567,933.4 L563.5,931 L563.5,925 C570,918 571,904 560,896 C550,889 538,887 524,889.6 L520.4,886.7 Z" fill="#fff" stroke="#151515" stroke-width="0.9" />
<path d="M520.4,880.8 Q523,884 530,883 C545,879 558,883 570,891 C580,899 582,912 576.5,926" fill="none" stroke="#151515" stroke-width="0.8" />
<path d="M532.8,879.6 C546,873.5 560,878 572,888" fill="none" stroke="#151515" stroke-width="0.6" />
<path d="M560,865.4 L560,879 M566,867 L566,883" fill="none" stroke="#151515" stroke-width="0.7" />
<path d="M576.5,879 L576.5,898 L584.2,899" fill="none" stroke="#151515" stroke-width="0.8" />
<path d="M566,862 L584.2,879" fill="none" stroke="#151515" stroke-width="0.6" />
<path d="M563.5,925 Q568,921 576.5,922" fill="none" stroke="#151515" stroke-width="0.7" />
<path d="M567,926 L567,933.4" fill="none" stroke="#151515" stroke-width="0.6" />
<ellipse cx="526.5" cy="878.5" rx="1.4" ry="1" fill="none" stroke="#151515" stroke-width="0.6"/>
<ellipse cx="530.5" cy="876.8" rx="1.6" ry="1.2" fill="none" stroke="#151515" stroke-width="0.7"/>
<ellipse cx="567" cy="924" rx="1.5" ry="1.1" fill="none" stroke="#151515" stroke-width="0.7"/>
<ellipse cx="570.5" cy="922.8" rx="1.3" ry="1" fill="none" stroke="#151515" stroke-width="0.6"/>
<circle cx="569.8" cy="885" r="0.7" fill="#111"/>
<path d="M551,872 L552,872" fill="none" stroke="#151515" stroke-width="0.8" />
<text transform="translate(538 844.8) scale(0.72 1)" y="3.7" class="t">110</text>
<polyline points="542,850.5 552.5,869.6" fill="none" stroke="#151515" stroke-width="0.8"/>
<rect x="565.7" y="909.7" width="1.6" height="8" rx="0" fill="#222" stroke="#222" stroke-width="0.5"/>
<polyline points="566.5,918 566.5,921" fill="none" stroke="#151515" stroke-width="0.7"/>
<polyline points="566.5,933 566.5,942" fill="none" stroke="#151515" stroke-width="0.7"/>
<circle cx="566.5" cy="937.5" r="1.2" fill="#111"/>
<circle cx="566.5" cy="941.5" r="1.2" fill="#111"/>
<rect x="571.3" y="849.5" width="2.8" height="18.5" rx="1" fill="#fff" stroke="#151515" stroke-width="0.9"/>
<polyline points="572.7,852 572.7,866" fill="none" stroke="#151515" stroke-width="1.0"/>
<rect x="589.5" y="872.5" width="3.5" height="19" rx="1.5" fill="#fff" stroke="#151515" stroke-width="0.9"/>
<polyline points="589,843 590.6,874" fill="none" stroke="#151515" stroke-width="0.7"/>
<text transform="translate(590.7 840) scale(0.72 1)" y="3.7" class="t">111</text>
<polyline points="589,843 589,843" fill="none" stroke="#151515" stroke-width="0.8"/>
<path d="M594.3,874 L597.8,871" fill="none" stroke="#151515" stroke-width="1.5" />
<text transform="translate(605 853.4) scale(0.72 1)" y="3.7" class="t">112</text>
<polyline points="604,857 595.5,873" fill="none" stroke="#151515" stroke-width="0.8"/>
<ellipse cx="599.6" cy="885.5" rx="3.6" ry="2.7" fill="#fff" stroke="#151515" stroke-width="1.1"/>
<polyline points="599.6,888 599.6,892" fill="none" stroke="#151515" stroke-width="1.8"/>
<polyline points="599.6,880.5 599.6,883" fill="none" stroke="#151515" stroke-width="0.7"/>
<text transform="translate(617.4 868.7) scale(0.72 1)" y="3.7" class="t">113</text>
<polyline points="612,872 602,883" fill="none" stroke="#151515" stroke-width="0.8"/>
<path d="M610.5,882.5 L612.5,884.5 L611.5,888" fill="none" stroke="#151515" stroke-width="1.6" />
<text transform="translate(622.2 892.5) scale(0.72 1)" y="3.7" class="t">114</text>
<polyline points="619,891 613,886" fill="none" stroke="#151515" stroke-width="0.8"/>
<path d="M586.5,906 Q587,902 593,899 L602,897.5 L605.5,899 L605.5,903.5 Q600,905 588,907.5 Q586,907.5 586.5,906 Z" fill="#fff" stroke="#151515" stroke-width="0.8" />
<path d="M602.5,894.5 L611.4,890 L611.4,893.5 M603,904.5 L612,900.8 L612,903.5" fill="none" stroke="#151515" stroke-width="0.7" />
<path d="M584.8,914.5 L600.2,907.4 L600.2,902" fill="none" stroke="#151515" stroke-width="0.7" />
<circle cx="593" cy="902.5" r="0.8" fill="#111"/>
<circle cx="598" cy="901" r="0.8" fill="#111"/>
<circle cx="611.4" cy="905.6" r="1.2" fill="#111"/>
<polyline points="611.4,906.5 609.5,917" fill="none" stroke="#151515" stroke-width="0.7"/>
<text transform="translate(609.8 921) scale(0.72 1)" y="3.7" class="t">115</text>
<polyline points="609.8,921 609.8,921" fill="none" stroke="#151515" stroke-width="0.8"/>
<polyline points="580,879.6 628,851.5" fill="none" stroke="#151515" stroke-width="0.8"/>
<polyline points="628,851.5 628,966" fill="none" stroke="#333" stroke-width="0.85" stroke-dasharray="26,4.5,5,4.5"/>
<polyline points="628,966 649,956" fill="none" stroke="#151515" stroke-width="0.8"/>
<path d="M490.5,956.5 C505,951 525,949.5 543,967 C556,980 556,1005 537.3,1017.5 L532.4,999.6 C540,993 544,990 544.5,985.5 C538,975 525,964 508,964.5 C500,965 495,968 491,970.7 Z" fill="#fff" stroke="#111" stroke-width="1.5" />
<path d="M490.5,956.5 C505,951 525,949.5 543,967 C556,980 556,1005 537.3,1017.5" fill="none" stroke="#111" stroke-width="1.8" />
<text transform="translate(503.9 982) scale(0.72 1)" y="3.7" class="t">148</text>
<polyline points="511.5,980.3 535.3,972.7" fill="none" stroke="#151515" stroke-width="0.8"/>
<path d="M522.5,952.5 L546.8,938.8 L547.5,952.5 L537.5,958" fill="none" stroke="#151515" stroke-width="1.0" />
<circle cx="544.9" cy="945" r="1.2" fill="#111"/>
<circle cx="544.9" cy="950.7" r="1.2" fill="#111"/>
<path d="M526.5,933 L534,937.5" fill="none" stroke="#222" stroke-width="2.4" />
<path d="M526.5,939.5 L534,944" fill="none" stroke="#222" stroke-width="2.4" />
<path d="M547.5,977.5 L572.6,964 L572.6,978.4 L551.6,990.8" fill="none" stroke="#151515" stroke-width="1.0" />
<circle cx="569.7" cy="970.8" r="1.2" fill="#111"/>
<circle cx="569.7" cy="976.5" r="1.2" fill="#111"/>
<path d="M574,971 L582,975 M574,977 L582,981" fill="none" stroke="#222" stroke-width="2.2" />
<text transform="translate(569.7 1010) scale(0.72 1)" y="3.7" class="t">149</text>
<polyline points="570.5,1005 579,984" fill="none" stroke="#151515" stroke-width="0.8"/>
<polyline points="642,866 642,916" fill="none" stroke="#151515" stroke-width="0.8"/>
<rect x="640.8" y="867" width="2.6" height="12" rx="1.2" fill="#fff" stroke="#151515" stroke-width="0.8"/>
<polyline points="641,871 643,871" fill="none" stroke="#151515" stroke-width="0.5"/>
<ellipse cx="642" cy="883.5" rx="1.8" ry="1" fill="#222" stroke="#222" stroke-width="1.4"/>
<text transform="translate(649 833.4) scale(0.72 1)" y="3.7" class="t">116</text>
<polyline points="648,839 642,867.7" fill="none" stroke="#151515" stroke-width="0.8"/>
<text transform="translate(667 851) scale(0.72 1)" y="3.7" class="t">117</text>
<polyline points="664,857 644,882" fill="none" stroke="#151515" stroke-width="0.8"/>
<text transform="translate(668 871.5) scale(0.72 1)" y="3.7" class="t">118</text>
<polyline points="666,877 654,906" fill="none" stroke="#151515" stroke-width="0.8"/>
<rect x="666.4" y="891" width="2.2" height="10" rx="1" fill="#fff" stroke="#151515" stroke-width="0.8"/>
<polyline points="667.5,901 667.5,906" fill="none" stroke="#151515" stroke-width="0.7"/>
<text transform="translate(682 877) scale(0.72 1)" y="3.7" class="t">119</text>
<polyline points="676,883 669,892" fill="none" stroke="#151515" stroke-width="0.8"/>
<path d="M638.3,914.9 L664.3,900.7 L680.9,917.2 L680.9,919 L677.9,920.5 L677.9,971.6 L662.6,979.5 L645.4,962.7 L644.8,925.5 L638.3,917 Z" fill="#fff" stroke="#151515" stroke-width="0.9" />
<path d="M638.3,914.9 L654.9,931.4 L680.9,917.2 M638.3,917 L654.9,933.4 L677.9,920.5" fill="none" stroke="#151515" stroke-width="0.8" />
<path d="M654.9,933.4 Q662,936 662,944 L662.6,979.5" fill="none" stroke="#151515" stroke-width="0.8" />
<path d="M647.2,915.5 L663.7,907.2 L672,916.6 L655.5,925 Z" fill="none" stroke="#151515" stroke-width="1.0" />
<path d="M649.5,915.8 L663.5,908.8 L670,916.3 L656,923.5 Z" fill="none" stroke="#151515" stroke-width="0.6" />
<ellipse cx="641.3" cy="915.5" rx="1.1" ry="0.8" fill="none" stroke="#151515" stroke-width="0.6"/>
<ellipse cx="664.3" cy="902.5" rx="1.1" ry="0.8" fill="none" stroke="#151515" stroke-width="0.6"/>
<ellipse cx="676.7" cy="914.9" rx="1.1" ry="0.8" fill="none" stroke="#151515" stroke-width="0.6"/>
<ellipse cx="654.3" cy="928.5" rx="1.1" ry="0.8" fill="none" stroke="#151515" stroke-width="0.6"/>
<ellipse cx="650.7" cy="924.3" rx="1.1" ry="0.8" fill="none" stroke="#151515" stroke-width="0.6"/>
<rect x="644.2" y="929.6" width="4.2" height="26" rx="0" fill="#fff" stroke="#151515" stroke-width="0.9"/>
<polyline points="646.3,931 646.3,954" fill="none" stroke="#151515" stroke-width="0.6"/>
<path d="M650,940.3 L659.6,945 L659.6,960.4 L650,955.7 Z" fill="none" stroke="#151515" stroke-width="0.9" />
<path d="M651.5,943 L658,946.5 L658,957.8 L651.5,954.3 Z" fill="none" stroke="#151515" stroke-width="0.6" />
<rect x="659" y="945" width="4.6" height="26" rx="0" fill="#fff" stroke="#151515" stroke-width="0.9"/>
<polyline points="661.3,947 661.3,969" fill="none" stroke="#151515" stroke-width="0.6"/>
<ellipse cx="669.6" cy="932" rx="1.9" ry="1.6" fill="none" stroke="#151515" stroke-width="0.8"/>
<text transform="translate(753 933) scale(0.72 1)" y="3.7" class="t">133</text>
<polyline points="745,934 720,930" fill="none" stroke="#151515" stroke-width="0.8"/>
<path d="M650,970.5 L594.5,993 C590,995.5 589.5,1000 591,1002 L597,1009 L612,1003.5 L612.5,1001.5 L614,1001 L644,989 L644,981.5 Z" fill="#fff" stroke="#151515" stroke-width="0.9" />
<path d="M643.5,982 L600.5,999 C597,1000.5 596.5,1003 597,1005 L597.5,1009" fill="none" stroke="#151515" stroke-width="0.8" />
<path d="M645.5,977 L653,973.5 L680.5,984.5 L687.5,991.5 L687.5,1000 L682.5,1004 L681.5,1002 L631,1044 L623.5,1035 C622.5,1032 623,1030.5 624,1030 L662,998 L644,989 L644,981.5 Z" fill="#fff" stroke="#151515" stroke-width="0.9" />
<path d="M645,977 L662,993 L662,998 M662,993 L687.5,991.5 M687,992 L632,1037 C630,1039 630,1041 631,1044" fill="none" stroke="#151515" stroke-width="0.8" />
<path d="M655,976.5 L663.5,972.2 L671.5,979.5 L663,984 Z" fill="none" stroke="#151515" stroke-width="0.8" />
<path d="M647,979 L662,992 L680.5,984.5" fill="none" stroke="#151515" stroke-width="0.5" />
<circle cx="649.6" cy="977.5" r="0.7" fill="#111"/>
<circle cx="673.5" cy="983" r="0.7" fill="#111"/>
<polyline points="662,979.5 662,992" fill="none" stroke="#151515" stroke-width="0.7"/>
<text transform="translate(660 1064.4) scale(0.72 1)" y="3.7" class="t">143</text>
<polyline points="654.4,1060 635.5,1039" fill="none" stroke="#151515" stroke-width="0.8"/>
<polyline points="662,1019 662,1039" fill="none" stroke="#151515" stroke-width="0.8"/>
<circle cx="662" cy="1025" r="1.2" fill="#111"/>
<circle cx="662" cy="1035" r="1.2" fill="#111"/>
<rect x="661" y="1027.5" width="2" height="5.5" rx="0" fill="#222" stroke="#222" stroke-width="0.5"/>
<text transform="translate(681 1026) scale(0.72 1)" y="3.7" class="t">141</text>
<polyline points="675.5,1027.5 663.5,1025" fill="none" stroke="#151515" stroke-width="0.8"/>
<text transform="translate(682.7 1043) scale(0.72 1)" y="3.7" class="t">142</text>
<polyline points="675.5,1042.5 663,1035.5" fill="none" stroke="#151515" stroke-width="0.8"/>
<polyline points="677.5,909 690.3,901.5 690.3,856.5 721,840" fill="none" stroke="#151515" stroke-width="0.8"/>
<ellipse cx="714" cy="842.6" rx="1.9" ry="1.5" fill="#fff" stroke="#151515" stroke-width="0.9"/>
<text transform="translate(701.4 828.2) scale(0.72 1)" y="3.7" class="t">121</text>
<polyline points="705.9,832.7 713.2,841.3" fill="none" stroke="#151515" stroke-width="0.8"/>
<path d="M720,833.5 L726,831 Q730.5,832 730,837.5 L723,842.5 Q719,843 718.5,839 Z" fill="#333" stroke="#222" stroke-width="0.9" />
<ellipse cx="721" cy="838" rx="3.2" ry="3.7" fill="#fff" stroke="#151515" stroke-width="0.9" transform="rotate(-30 721 838)"/>
<ellipse cx="721" cy="838" rx="1.4" ry="1.6" fill="none" stroke="#151515" stroke-width="0.7"/>
<text transform="translate(718.1 813) scale(0.72 1)" y="3.7" class="t">122</text>
<polyline points="719.4,818.8 726.3,832.3" fill="none" stroke="#151515" stroke-width="0.8"/>
<path d="M733.5,833.2 L755.5,819.5 Q758.5,818 759.5,820.5 Q760,822.5 757.5,824 L735.5,836.5 Q732.5,837 732.5,835 Z" fill="#fff" stroke="#151515" stroke-width="0.9" />
<path d="M743.5,825 L745.5,828.5 M749.5,821.5 L751.5,825" fill="none" stroke="#151515" stroke-width="1.1" />
<polyline points="758.5,818.5 760.5,817.5" fill="none" stroke="#151515" stroke-width="0.7"/>
<polyline points="729.5,836.5 732.5,835" fill="none" stroke="#151515" stroke-width="0.8"/>
<text transform="translate(741.5 809.8) scale(0.72 1)" y="3.7" class="t">123</text>
<polyline points="742.7,816.4 746,822.1" fill="none" stroke="#151515" stroke-width="0.8"/>
<path d="M715.3,848.7 L719.4,847" fill="none" stroke="#151515" stroke-width="1.8" />
<text transform="translate(692.4 842.6) scale(0.72 1)" y="3.7" class="t">120</text>
<polyline points="701.4,844.6 715,848.5" fill="none" stroke="#151515" stroke-width="0.8"/>
<polyline points="721.4,845 721.4,864" fill="none" stroke="#151515" stroke-width="1.2"/>
<path d="M719.5,845 L723.5,845" fill="none" stroke="#151515" stroke-width="1.0" />
<circle cx="721.4" cy="855.6" r="1" fill="#111"/>
<circle cx="721.4" cy="858.5" r="1" fill="#111"/>
<circle cx="721.4" cy="862" r="1.3" fill="#111"/>
<text transform="translate(755 840) scale(0.72 1)" y="3.7" class="t">124</text>
<polyline points="723.5,849.5 747.6,839.3" fill="none" stroke="#151515" stroke-width="0.8"/>
<text transform="translate(737.4 854) scale(0.72 1)" y="3.7" class="t">125</text>
<polyline points="722.6,855.6 732.5,853.6" fill="none" stroke="#151515" stroke-width="0.8"/>
<text transform="translate(759 861.8) scale(0.72 1)" y="3.7" class="t">126</text>
<polyline points="722.6,858.5 752,861.4" fill="none" stroke="#151515" stroke-width="0.8"/>
<text transform="translate(736 867) scale(0.72 1)" y="3.7" class="t">127</text>
<polyline points="722.6,861.4 729.6,865.5" fill="none" stroke="#151515" stroke-width="0.8"/>
<text transform="translate(734 878.6) scale(0.72 1)" y="3.7" class="t">128</text>
<polyline points="722.2,863 728.4,875.3" fill="none" stroke="#151515" stroke-width="0.8"/>
<text transform="translate(703 878.1) scale(0.72 1)" y="3.7" class="t">129</text>
<polyline points="702.2,883 707.5,892" fill="none" stroke="#151515" stroke-width="0.8"/>
<polyline points="708,895.5 710,893.8" fill="none" stroke="#151515" stroke-width="1.8"/>
<path d="M704.5,897 L720.5,912.5 L720.5,936 L704.5,922 Z" fill="#fff" stroke="#151515" stroke-width="0.9" />
<path d="M705.5,905.5 L705.5,922.5 A3,1.5 0 0 0 711.5,922.5 L711.5,905.5" fill="#fff" stroke="#151515" stroke-width="0.9" />
<ellipse cx="708.5" cy="905.5" rx="3" ry="1.5" fill="#fff" stroke="#151515" stroke-width="0.9"/>
<path d="M712,913.5 L712,930 A3.5,1.7 0 0 0 719,930 L719,913.5" fill="#fff" stroke="#151515" stroke-width="0.9" />
<ellipse cx="715.5" cy="913.5" rx="3.5" ry="1.7" fill="#fff" stroke="#151515" stroke-width="0.9"/>
<circle cx="707.5" cy="905.5" r="0.9" fill="#111"/>
<circle cx="714.5" cy="913" r="0.9" fill="#111"/>
<path d="M706.5,913.5 L710.5,913.5 M713,921 L717,921" fill="none" stroke="#151515" stroke-width="1.2" />
<path d="M709,904 C709,898 714,897 720,898.5 M711,904.5 C711,899.5 716,899 721,900" fill="none" stroke="#151515" stroke-width="0.7" />
<path d="M716,912 C716,906 721,905 727,906.5 M718,912.5 C718,907.5 723,907 728,908" fill="none" stroke="#151515" stroke-width="0.7" />
<circle cx="720.7" cy="887" r="0.6" fill="#111"/>
<circle cx="720.7" cy="891" r="0.6" fill="#111"/>
<circle cx="720.7" cy="895" r="0.6" fill="#111"/>
<circle cx="720.7" cy="899" r="0.6" fill="#111"/>
<circle cx="728" cy="896" r="0.6" fill="#111"/>
<circle cx="728" cy="900" r="0.6" fill="#111"/>
<circle cx="728" cy="904" r="0.6" fill="#111"/>
<circle cx="728" cy="908" r="0.6" fill="#111"/>
<text transform="translate(693 905.5) scale(0.72 1)" y="3.7" class="t">130</text>
<polyline points="699.5,908.5 705.5,910.5" fill="none" stroke="#151515" stroke-width="0.8"/>
<text transform="translate(692 917.5) scale(0.72 1)" y="3.7" class="t">131</text>
<polyline points="700.5,918.5 707,918.5" fill="none" stroke="#151515" stroke-width="0.8"/>
<text transform="translate(697.5 933.5) scale(0.72 1)" y="3.7" class="t">132</text>
<polyline points="703.5,933.5 712,929" fill="none" stroke="#151515" stroke-width="0.8"/>
<polyline points="678,936.5 694,928" fill="none" stroke="#151515" stroke-width="0.8"/>
<ellipse cx="669" cy="931.5" rx="2" ry="1.8" fill="none" stroke="#151515" stroke-width="0.9"/>
<polyline points="670.5,933 683,944" fill="none" stroke="#151515" stroke-width="0.8"/>
<path d="M683,943.5 Q684.5,941.5 686.5,943 L700.5,958 Q701.5,961 699,962 Q697.5,962.5 696.5,961.5 L682.5,946.5 Q681.5,945 683,943.5 Z" fill="#fff" stroke="#151515" stroke-width="0.9" />
<path d="M686,947 L693.5,954" fill="none" stroke="#333" stroke-width="3" />
<text transform="translate(714.5 941) scale(0.72 1)" y="3.7" class="t">134</text>
<polyline points="707.5,945 696,952.5" fill="none" stroke="#151515" stroke-width="0.8"/>
<ellipse cx="702" cy="963" rx="1.6" ry="1.5" fill="none" stroke="#151515" stroke-width="0.9"/>
<text transform="translate(718 953.5) scale(0.72 1)" y="3.7" class="t">135</text>
<polyline points="711.5,957 704,961.5" fill="none" stroke="#151515" stroke-width="0.8"/>
<ellipse cx="707" cy="966" rx="2.6" ry="2" fill="#fff" stroke="#151515" stroke-width="1.3" transform="rotate(-40 707 966)"/>
<text transform="translate(740 952.5) scale(0.72 1)" y="3.7" class="t">136</text>
<polyline points="733,954.5 709,965" fill="none" stroke="#151515" stroke-width="0.8"/>
<ellipse cx="713.5" cy="972.5" rx="3.6" ry="3.4" fill="#333" stroke="#222" stroke-width="1.4"/>
<ellipse cx="713.5" cy="972.5" rx="1.6" ry="1.5" fill="none" stroke="#999" stroke-width="0.6"/>
<text transform="translate(731 966) scale(0.72 1)" y="3.7" class="t">137</text>
<polyline points="722.5,968 717,969.5" fill="none" stroke="#151515" stroke-width="0.8"/>
<polyline points="717,975 734,987" fill="none" stroke="#151515" stroke-width="0.9"/>
<polyline points="721,977.5 725,980.5" fill="none" stroke="#151515" stroke-width="1.8"/>
<polyline points="731,985 734,987" fill="none" stroke="#151515" stroke-width="1.8"/>
<text transform="translate(756 968) scale(0.72 1)" y="3.7" class="t">138</text>
<polyline points="750,970.5 726,978.5" fill="none" stroke="#151515" stroke-width="0.8"/>
<text transform="translate(756 983.5) scale(0.72 1)" y="3.7" class="t">139</text>
<polyline points="749,984.5 734,986" fill="none" stroke="#151515" stroke-width="0.8"/>
<polyline points="704.5,973.8 708,972.8" fill="none" stroke="#151515" stroke-width="1.8"/>
<text transform="translate(691 970.5) scale(0.72 1)" y="3.7" class="t">140</text>
<polyline points="699.5,971 704.5,973.5" fill="none" stroke="#151515" stroke-width="0.8"/>
<line x1="558.2" y1="0" x2="558.2" y2="276.5" stroke="#111" stroke-width="2"/>
<line x1="557.2" y1="275.6" x2="882" y2="275.6" stroke="#111" stroke-width="2"/>
<text transform="translate(0 21.6) scale(0.56 1)" x="1171.9 1184.8 1197.7 1210.6 1223.4 1236.3 1249.2 1262.1 1275.0 1287.9 1300.8 1313.7 1326.6 1339.5 1352.4 1365.3 1378.2 1391.1 1403.9 1416.8 1429.7" class="ti">B30C STIRRING MACHINE</text>
<path d="M616.4,113.2 L616.4,75.5 Q616.4,72.7 619.5,72.7 L718.8,72.7 Q721.8,72.7 721.8,75.5 L721.8,113.2 Z" fill="#fff" stroke="#111" stroke-width="1.8" />
<polyline points="616.4,84.5 721.8,84.5" fill="none" stroke="#111" stroke-width="1.5"/>
<rect x="612.8" y="89.5" width="3.4" height="18.5" rx="0" fill="#fff" stroke="#111" stroke-width="1.2"/>
<rect x="622.7" y="88.2" width="51.8" height="20.6" rx="0" fill="none" stroke="#111" stroke-width="1.6"/>
<rect x="623.8" y="90.2" width="17.8" height="16" rx="0" fill="none" stroke="#111" stroke-width="1.6"/>
<rect x="626.5" y="92.5" width="11" height="11" rx="0" fill="none" stroke="#111" stroke-width="1.6"/>
<ellipse cx="631.8" cy="97.3" rx="3" ry="3" fill="none" stroke="#111" stroke-width="1.8"/>
<ellipse cx="631.8" cy="97.3" rx="1.1" ry="1.1" fill="none" stroke="#111" stroke-width="0.8"/>
<rect x="643.6" y="89.8" width="30.5" height="18" rx="1.5" fill="none" stroke="#111" stroke-width="1.4"/>
<ellipse cx="649" cy="97.3" rx="2.7" ry="2.7" fill="none" stroke="#111" stroke-width="0.9"/>
<ellipse cx="661.3" cy="97.3" rx="5" ry="5" fill="none" stroke="#111" stroke-width="0.9"/>
<path d="M631,101 L631,115.5 Q633,118.2 635,115.5 L635,101" fill="#fff" stroke="#111" stroke-width="1.2" />
<path d="M620.2,113.3 L620.2,123.8 L662.4,123.8 L662.4,113.3" fill="none" stroke="#111" stroke-width="1.3" />
<polyline points="662.4,113.3 662.4,123.8" fill="none" stroke="#666" stroke-width="0.7"/>
<rect x="669.5" y="113.3" width="42.3" height="3.6" rx="0" fill="none" stroke="#111" stroke-width="1.3"/>
<path d="M670,116.7 Q683,118 685,130 L685.2,148" fill="none" stroke="#555" stroke-width="0.7" />
<path d="M602.2,146.8 C606,136 612,129 620.2,125" fill="none" stroke="#111" stroke-width="2.4" />
<path d="M670.7,124.2 C678,130 682,137 684.1,145.1" fill="none" stroke="#111" stroke-width="1.8" />
<polyline points="620.2,123.8 682.4,123.8" fill="none" stroke="#111" stroke-width="1.3"/>
<path d="M623,125 Q611.5,136 606,146.8" fill="none" stroke="#111" stroke-width="2.2" />
<path d="M627.7,125 Q615.35,136 609,146.8" fill="none" stroke="#111" stroke-width="2.0" />
<path d="M631.4,125 Q619.2,136 613,146.8" fill="none" stroke="#111" stroke-width="2.0" />
<path d="M634.8,125 Q623.65,136 618.5,146.8" fill="none" stroke="#111" stroke-width="2.0" />
<path d="M639,125 Q629.7,136 626.4,146.8" fill="none" stroke="#111" stroke-width="2.0" />
<path d="M640.5,125 Q635.5,136 636.5,146.8" fill="none" stroke="#111" stroke-width="2.0" />
<polyline points="601.3,146.8 649,146.8" fill="none" stroke="#111" stroke-width="2.2"/>
<polyline points="656.5,146.8 685,146.8" fill="none" stroke="#111" stroke-width="2.2"/>
<rect x="646" y="125.5" width="14.3" height="10" rx="0" fill="none" stroke="#444" stroke-width="0.8"/>
<rect x="649" y="136" width="8.8" height="5.4" rx="0" fill="none" stroke="#444" stroke-width="0.8"/>
<polyline points="649,138 657.8,138" fill="none" stroke="#444" stroke-width="0.6"/>
<path d="M649,148 L633.1,160.6 M657,148 L673.3,160.2" fill="none" stroke="#333" stroke-width="0.7" />
<polyline points="633.1,160 633.1,163" fill="none" stroke="#151515" stroke-width="0.6"/>
<polyline points="673.6,155.5 673.6,163" fill="none" stroke="#151515" stroke-width="0.6"/>
<polyline points="601.3,163.5 679.5,163.5" fill="none" stroke="#555" stroke-width="1.6"/>
<path d="M603.4,163.5 L603.4,200 C603.4,222 620,231 640,231 L656,231" fill="none" stroke="#222" stroke-width="0.8" />
<path d="M677.4,163.5 L677.4,200 C677.4,214 671,226 655,231" fill="none" stroke="#222" stroke-width="0.8" />
<rect x="630" y="191.8" width="52.7" height="7.2" rx="0" fill="none" stroke="#222" stroke-width="0.8"/>
<path d="M629.5,179 L650,179 L650,181 L647,181 L645,191.8 L635,191.8 L633,181 L629.5,181 Z" fill="none" stroke="#222" stroke-width="0.8" />
<ellipse cx="640.5" cy="190.5" rx="1" ry="1" fill="none" stroke="#151515" stroke-width="0.6"/>
<path d="M650,190 C662,189 672,181 677.4,172" fill="none" stroke="#333" stroke-width="0.7" />
<polyline points="677.4,172 680,169" fill="none" stroke="#151515" stroke-width="0.6"/>
<rect x="682.4" y="147.6" width="6.7" height="51.4" rx="0" fill="none" stroke="#222" stroke-width="0.8"/>
<path d="M682.7,199 L682.7,231" fill="none" stroke="#222" stroke-width="0.8" />
<path d="M689.1,116.7 L689.1,148" fill="none" stroke="#444" stroke-width="0.6" />
<path d="M709,116.7 L709,200 C709,215 716,232 724.5,251.8" fill="none" stroke="#222" stroke-width="0.8" />
<polyline points="682.7,221 713,221" fill="none" stroke="#222" stroke-width="0.7"/>
<polyline points="682.7,224.5 714,224.5" fill="none" stroke="#444" stroke-width="0.5"/>
<ellipse cx="700" cy="135.9" rx="14" ry="14" fill="#fff" stroke="#111" stroke-width="0.9"/>
<ellipse cx="700" cy="135.9" rx="11.9" ry="11.9" fill="none" stroke="#111" stroke-width="0.8"/>
<polyline points="700,132.4 700,124" fill="none" stroke="#111" stroke-width="3.0"/>
<polyline points="700,132.4 700,124.4" fill="none" stroke="#fff" stroke-width="1.4"/>
<polyline points="703.3,137.1 711.2,139.9" fill="none" stroke="#111" stroke-width="3.0"/>
<polyline points="703.3,137.1 710.8,139.8" fill="none" stroke="#fff" stroke-width="1.4"/>
<polyline points="696.7,137.1 688.8,139.9" fill="none" stroke="#111" stroke-width="3.0"/>
<polyline points="696.7,137.1 689.2,139.8" fill="none" stroke="#fff" stroke-width="1.4"/>
<ellipse cx="700" cy="135.9" rx="4.1" ry="4.1" fill="#fff" stroke="#111" stroke-width="0.9"/>
<ellipse cx="700" cy="135.9" rx="2" ry="2" fill="none" stroke="#111" stroke-width="0.7"/>
<ellipse cx="699.8" cy="148.6" rx="2" ry="1.8" fill="#fff" stroke="#151515" stroke-width="0.8"/>
<path d="M624.5,231 L717,231 M624.5,231 L619,251.8 L639,251.8 L642.7,241.8 L701,241.8 L706.4,251.8 L725.5,251.8" fill="none" stroke="#222" stroke-width="0.8" />
<path d="M785.5,113.2 L785.5,80 Q785.5,72.6 793,72.6 L828,72.6 Q835.2,72.6 835.2,80 L835.2,113.2 Z" fill="#fff" stroke="#111" stroke-width="1.8" />
<polyline points="785.5,85 835.2,85" fill="none" stroke="#111" stroke-width="1.8"/>
<rect x="796.5" y="88.9" width="26.8" height="19.1" rx="3.5" fill="none" stroke="#111" stroke-width="2.0"/>
<circle cx="798.5" cy="91" r="0.8" fill="#111"/>
<circle cx="821.3" cy="91" r="0.8" fill="#111"/>
<circle cx="798.5" cy="106" r="0.8" fill="#111"/>
<circle cx="821.3" cy="106" r="0.8" fill="#111"/>
<rect x="835.7" y="90.8" width="3.8" height="14.3" rx="0" fill="#555" stroke="#111" stroke-width="1.0"/>
<rect x="840" y="94" width="6.2" height="8.2" rx="0" fill="#fff" stroke="#111" stroke-width="1.0"/>
<path d="M842.5,101.5 L849,113.8 Q851.5,116.2 853.5,113.5 L847,100.5" fill="#fff" stroke="#111" stroke-width="1.4" />
<path d="M787.4,113.2 L787.4,123.7 M832.3,113.2 L832.3,123.7" fill="none" stroke="#666" stroke-width="0.7" />
<path d="M768.8,148.1 C772,138 779,128 787.4,123.3" fill="none" stroke="#111" stroke-width="2.6" />
<path d="M772.5,147 C775,139 781,130 789,125" fill="none" stroke="#111" stroke-width="1.6" />
<path d="M832.3,123.3 C840,128 847,138 850.5,148.1" fill="none" stroke="#111" stroke-width="2.6" />
<path d="M830.5,125 C838,130 844,139 847,147" fill="none" stroke="#111" stroke-width="1.6" />
<path d="M787.4,124 Q776.7,134 772.0,148" fill="none" stroke="#111" stroke-width="2.0" />
<path d="M790.8,124 Q781.3,134 777.0,148" fill="none" stroke="#111" stroke-width="2.0" />
<path d="M794.6,124 Q786.1,134 782.0,148" fill="none" stroke="#111" stroke-width="2.0" />
<path d="M798.4,124 Q791.4,134 788.0,148" fill="none" stroke="#111" stroke-width="2.0" />
<path d="M802.2,124 Q798.0,134 796.0,148" fill="none" stroke="#111" stroke-width="2.0" />
<path d="M807.0,124 Q805.6,134 805.0,148" fill="none" stroke="#111" stroke-width="2.0" />
<path d="M811.8,124 Q812.8,134 813.2,148" fill="none" stroke="#111" stroke-width="2.0" />
<path d="M816.6,124 Q819.9,134 821.4,148" fill="none" stroke="#111" stroke-width="2.0" />
<path d="M820.9,124 Q825.9,134 828.0,148" fill="none" stroke="#111" stroke-width="2.0" />
<path d="M825.2,124 Q832.1,134 835.0,148" fill="none" stroke="#111" stroke-width="2.0" />
<path d="M830.0,124 Q838.0,134 841.0,148" fill="none" stroke="#111" stroke-width="2.0" />
<path d="M832.3,124 Q842.3,134 846.5,148" fill="none" stroke="#111" stroke-width="2.0" />
<polyline points="768.5,148.1 852,148.1" fill="none" stroke="#111" stroke-width="2.2"/>
<path d="M842.4,130.5 L846.5,127 L851,133.5 L847,137.5 Z" fill="#fff" stroke="#111" stroke-width="1.2" />
<rect x="851.4" y="145.7" width="3" height="3.8" rx="0" fill="none" stroke="#444" stroke-width="0.6"/>
<rect x="790.8" y="149" width="3.8" height="11.5" rx="0" fill="none" stroke="#555" stroke-width="0.6"/>
<rect x="824.7" y="149" width="4.3" height="11.5" rx="0" fill="none" stroke="#555" stroke-width="0.6"/>
<path d="M807,149 L790.3,162.4 M812.8,149 L830,162.4" fill="none" stroke="#444" stroke-width="0.6" />
<polyline points="771.2,163.9 849.5,163.9" fill="none" stroke="#555" stroke-width="1.6"/>
<path d="M772.5,163.9 L772.5,211 C773,226 785,237 796,237 L824,237 C836,237 847.5,226 847.5,208.4 L847.5,163.9" fill="none" stroke="#222" stroke-width="0.8" />
<path d="M764.8,180.4 L772.5,180.4 M847.5,180.4 L855.8,180.4" fill="none" stroke="#666" stroke-width="1.4" />
<polyline points="772.5,180.5 772.5,191" fill="none" stroke="#222" stroke-width="1.2"/>
<polyline points="847.5,180.5 847.5,191" fill="none" stroke="#222" stroke-width="1.2"/>
<rect x="765.5" y="192.5" width="6.3" height="7" rx="0" fill="none" stroke="#222" stroke-width="0.7"/>
<rect x="848.2" y="192.5" width="6.3" height="7" rx="0" fill="none" stroke="#222" stroke-width="0.7"/>
<path d="M768.6,192.5 L768.6,189.8 L770.5,189.8 L770.5,192.5 M851,192.5 L851,189.8 L852.9,189.8 L852.9,192.5" fill="none" stroke="#151515" stroke-width="0.6" />
<path d="M771.8,209.6 L752.1,230.6 L746.4,252.9 L769.9,252.9 L768.6,230.6 L775,223.6 M752.1,230.6 L768.6,230.6 M769.9,252.9 L775.6,247.8 L776.9,237 L782,231.9" fill="none" stroke="#222" stroke-width="0.7" />
<path d="M847.5,209.6 L867.9,230.6 L874.3,252.9 L850.7,252.9 L852,230.6 L845,223.6 M867.9,230.6 L852,230.6 M850.7,252.9 L845,247.8 L843.7,237 L838,231.9" fill="none" stroke="#222" stroke-width="0.7" />
</svg></body></html>
